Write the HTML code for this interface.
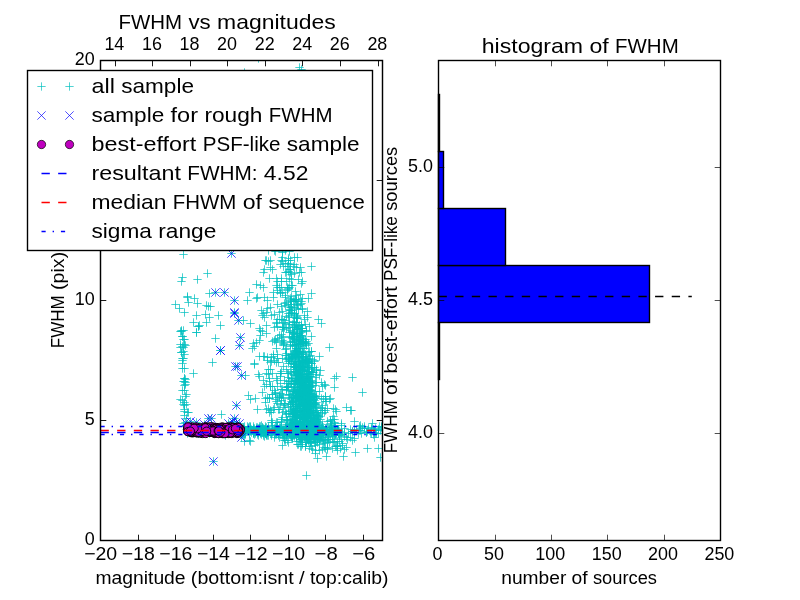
<!DOCTYPE html>
<html><head><meta charset="utf-8"><title>FWHM</title>
<style>
html,body{margin:0;padding:0;background:#fff;}
svg{display:block;will-change:transform;}
text{font-family:"Liberation Sans",sans-serif;fill:#000;}
</style></head><body>
<svg width="800" height="600" viewBox="0 0 800 600">
<rect width="800" height="600" fill="#fff"/>
<clipPath id="cl"><rect x="100.5" y="60.5" width="282" height="480"/></clipPath>
<g clip-path="url(#cl)">
<path d="M179.3 254.5h8.4m-4.2 -4.2v8.4M227.3 253.5h8.4m-4.2 -4.2v8.4M203.3 273.5h8.4m-4.2 -4.2v8.4M178.3 277.5h8.4m-4.2 -4.2v8.4M177.3 281.5h8.4m-4.2 -4.2v8.4M193.3 279.5h8.4m-4.2 -4.2v8.4M205.3 293.5h8.4m-4.2 -4.2v8.4M183.3 296.5h8.4m-4.2 -4.2v8.4M183.3 297.5h8.4m-4.2 -4.2v8.4M190.3 298.5h8.4m-4.2 -4.2v8.4M171.3 304.5h8.4m-4.2 -4.2v8.4M175.3 308.5h8.4m-4.2 -4.2v8.4M180.3 312.5h8.4m-4.2 -4.2v8.4M184.3 302.5h8.4m-4.2 -4.2v8.4M193.3 303.5h8.4m-4.2 -4.2v8.4M202.3 305.5h8.4m-4.2 -4.2v8.4M204.3 306.5h8.4m-4.2 -4.2v8.4M206.3 306.5h8.4m-4.2 -4.2v8.4M192.3 315.5h8.4m-4.2 -4.2v8.4M201.3 314.5h8.4m-4.2 -4.2v8.4M205.3 317.5h8.4m-4.2 -4.2v8.4M214.3 315.5h8.4m-4.2 -4.2v8.4M216.3 325.5h8.4m-4.2 -4.2v8.4M189.3 322.5h8.4m-4.2 -4.2v8.4M194.3 326.5h8.4m-4.2 -4.2v8.4M195.3 325.5h8.4m-4.2 -4.2v8.4M194.3 326.5h8.4m-4.2 -4.2v8.4M202.3 322.5h8.4m-4.2 -4.2v8.4M176.3 331.5h8.4m-4.2 -4.2v8.4M177.3 330.5h8.4m-4.2 -4.2v8.4M192.3 332.5h8.4m-4.2 -4.2v8.4M243.3 300.5h8.4m-4.2 -4.2v8.4M239.3 320.5h8.4m-4.2 -4.2v8.4M192.3 332.5h8.4m-4.2 -4.2v8.4M211.3 338.5h8.4m-4.2 -4.2v8.4M208.3 362.5h8.4m-4.2 -4.2v8.4M189.3 373.5h8.4m-4.2 -4.2v8.4M249.3 343.5h8.4m-4.2 -4.2v8.4M217.3 414.5h8.4m-4.2 -4.2v8.4M244.3 395.5h8.4m-4.2 -4.2v8.4M241.3 375.5h8.4m-4.2 -4.2v8.4M211.3 292.5h8.4m-4.2 -4.2v8.4M220.3 292.5h8.4m-4.2 -4.2v8.4M230.3 300.5h8.4m-4.2 -4.2v8.4M230.3 312.5h8.4m-4.2 -4.2v8.4M234.3 320.5h8.4m-4.2 -4.2v8.4M236.3 337.5h8.4m-4.2 -4.2v8.4M235.3 345.5h8.4m-4.2 -4.2v8.4M216.3 350.5h8.4m-4.2 -4.2v8.4M231.3 366.5h8.4m-4.2 -4.2v8.4M233.3 366.5h8.4m-4.2 -4.2v8.4M237.3 375.5h8.4m-4.2 -4.2v8.4M307.3 266.5h8.4m-4.2 -4.2v8.4M307.3 293.5h8.4m-4.2 -4.2v8.4M304.3 298.5h8.4m-4.2 -4.2v8.4M314.3 319.5h8.4m-4.2 -4.2v8.4M317.3 323.5h8.4m-4.2 -4.2v8.4M305.3 326.5h8.4m-4.2 -4.2v8.4M303.3 311.5h8.4m-4.2 -4.2v8.4M303.3 317.5h8.4m-4.2 -4.2v8.4M296.3 267.5h8.4m-4.2 -4.2v8.4M295.3 272.5h8.4m-4.2 -4.2v8.4M297.3 272.5h8.4m-4.2 -4.2v8.4M297.3 283.5h8.4m-4.2 -4.2v8.4M290.3 257.5h8.4m-4.2 -4.2v8.4M325.3 347.5h8.4m-4.2 -4.2v8.4M315.3 356.5h8.4m-4.2 -4.2v8.4M332.3 376.5h8.4m-4.2 -4.2v8.4M330.3 378.5h8.4m-4.2 -4.2v8.4M348.3 377.5h8.4m-4.2 -4.2v8.4M330.3 387.5h8.4m-4.2 -4.2v8.4M358.3 392.5h8.4m-4.2 -4.2v8.4M326.3 398.5h8.4m-4.2 -4.2v8.4M342.3 407.5h8.4m-4.2 -4.2v8.4M347.3 410.5h8.4m-4.2 -4.2v8.4M329.3 408.5h8.4m-4.2 -4.2v8.4M332.3 411.5h8.4m-4.2 -4.2v8.4M331.3 409.5h8.4m-4.2 -4.2v8.4M307.3 336.5h8.4m-4.2 -4.2v8.4M307.3 351.5h8.4m-4.2 -4.2v8.4M302.3 475.5h8.4m-4.2 -4.2v8.4M278.3 445.5h8.4m-4.2 -4.2v8.4M313.3 458.5h8.4m-4.2 -4.2v8.4M322.3 456.5h8.4m-4.2 -4.2v8.4M339.3 456.5h8.4m-4.2 -4.2v8.4M351.3 452.5h8.4m-4.2 -4.2v8.4M363.3 448.5h8.4m-4.2 -4.2v8.4M374.3 448.5h8.4m-4.2 -4.2v8.4M376.3 457.5h8.4m-4.2 -4.2v8.4M368.3 423.5h8.4m-4.2 -4.2v8.4M350.3 421.5h8.4m-4.2 -4.2v8.4M346.3 410.5h8.4m-4.2 -4.2v8.4M356.3 425.5h8.4m-4.2 -4.2v8.4M360.3 428.5h8.4m-4.2 -4.2v8.4M376.3 430.5h8.4m-4.2 -4.2v8.4M370.3 437.5h8.4m-4.2 -4.2v8.4M350.3 438.5h8.4m-4.2 -4.2v8.4M342.3 447.5h8.4m-4.2 -4.2v8.4M333.3 450.5h8.4m-4.2 -4.2v8.4M332.3 446.5h8.4m-4.2 -4.2v8.4M311.3 453.5h8.4m-4.2 -4.2v8.4M315.3 450.5h8.4m-4.2 -4.2v8.4M308.3 449.5h8.4m-4.2 -4.2v8.4M240.3 441.5h8.4m-4.2 -4.2v8.4M246.3 441.5h8.4m-4.2 -4.2v8.4M295.3 67.5h8.4m-4.2 -4.2v8.4M297.3 69.5h8.4m-4.2 -4.2v8.4M240.3 72.5h8.4m-4.2 -4.2v8.4M254.3 58.5h8.4m-4.2 -4.2v8.4M230.3 313.5h8.4m-4.2 -4.2v8.4M216.3 350.5h8.4m-4.2 -4.2v8.4M232.3 405.5h8.4m-4.2 -4.2v8.4M230.3 418.5h8.4m-4.2 -4.2v8.4M204.3 418.5h8.4m-4.2 -4.2v8.4M207.3 418.5h8.4m-4.2 -4.2v8.4M209.3 461.5h8.4m-4.2 -4.2v8.4M181.3 422.5h8.4m-4.2 -4.2v8.4M192.3 422.5h8.4m-4.2 -4.2v8.4M232.3 422.5h8.4m-4.2 -4.2v8.4M235.3 423.5h8.4m-4.2 -4.2v8.4M237.3 437.5h8.4m-4.2 -4.2v8.4M186.3 421.5h8.4m-4.2 -4.2v8.4M200.3 424.5h8.4m-4.2 -4.2v8.4M224.3 423.5h8.4m-4.2 -4.2v8.4M228.3 421.5h8.4m-4.2 -4.2v8.4M177.3 331.5h8.4m-4.2 -4.2v8.4M179.3 330.5h8.4m-4.2 -4.2v8.4M178.3 336.5h8.4m-4.2 -4.2v8.4M178.3 336.5h8.4m-4.2 -4.2v8.4M180.3 339.5h8.4m-4.2 -4.2v8.4M179.3 339.5h8.4m-4.2 -4.2v8.4M176.3 347.5h8.4m-4.2 -4.2v8.4M176.3 344.5h8.4m-4.2 -4.2v8.4M178.3 346.5h8.4m-4.2 -4.2v8.4M179.3 347.5h8.4m-4.2 -4.2v8.4M181.3 345.5h8.4m-4.2 -4.2v8.4M180.3 344.5h8.4m-4.2 -4.2v8.4M177.3 352.5h8.4m-4.2 -4.2v8.4M177.3 352.5h8.4m-4.2 -4.2v8.4M180.3 354.5h8.4m-4.2 -4.2v8.4M179.3 351.5h8.4m-4.2 -4.2v8.4M178.3 358.5h8.4m-4.2 -4.2v8.4M179.3 358.5h8.4m-4.2 -4.2v8.4M178.3 363.5h8.4m-4.2 -4.2v8.4M178.3 360.5h8.4m-4.2 -4.2v8.4M178.3 368.5h8.4m-4.2 -4.2v8.4M180.3 368.5h8.4m-4.2 -4.2v8.4M180.3 378.5h8.4m-4.2 -4.2v8.4M179.3 381.5h8.4m-4.2 -4.2v8.4M180.3 381.5h8.4m-4.2 -4.2v8.4M180.3 378.5h8.4m-4.2 -4.2v8.4M181.3 382.5h8.4m-4.2 -4.2v8.4M181.3 379.5h8.4m-4.2 -4.2v8.4M180.3 385.5h8.4m-4.2 -4.2v8.4M181.3 384.5h8.4m-4.2 -4.2v8.4M182.3 394.5h8.4m-4.2 -4.2v8.4M181.3 396.5h8.4m-4.2 -4.2v8.4M180.3 390.5h8.4m-4.2 -4.2v8.4M178.3 390.5h8.4m-4.2 -4.2v8.4M178.3 400.5h8.4m-4.2 -4.2v8.4M176.3 399.5h8.4m-4.2 -4.2v8.4M180.3 402.5h8.4m-4.2 -4.2v8.4M179.3 404.5h8.4m-4.2 -4.2v8.4M180.3 405.5h8.4m-4.2 -4.2v8.4M182.3 404.5h8.4m-4.2 -4.2v8.4M183.3 412.5h8.4m-4.2 -4.2v8.4M184.3 412.5h8.4m-4.2 -4.2v8.4M180.3 411.5h8.4m-4.2 -4.2v8.4M180.3 409.5h8.4m-4.2 -4.2v8.4M182.3 418.5h8.4m-4.2 -4.2v8.4M180.3 415.5h8.4m-4.2 -4.2v8.4M179.3 423.5h8.4m-4.2 -4.2v8.4M179.3 426.5h8.4m-4.2 -4.2v8.4M305.3 386.5h8.4m-4.2 -4.2v8.4M278.3 252.5h8.4m-4.2 -4.2v8.4M292.3 322.5h8.4m-4.2 -4.2v8.4M309.3 415.5h8.4m-4.2 -4.2v8.4M295.3 398.5h8.4m-4.2 -4.2v8.4M305.3 414.5h8.4m-4.2 -4.2v8.4M282.3 436.5h8.4m-4.2 -4.2v8.4M304.3 413.5h8.4m-4.2 -4.2v8.4M284.3 304.5h8.4m-4.2 -4.2v8.4M296.3 372.5h8.4m-4.2 -4.2v8.4M311.3 404.5h8.4m-4.2 -4.2v8.4M302.3 359.5h8.4m-4.2 -4.2v8.4M313.3 437.5h8.4m-4.2 -4.2v8.4M309.3 435.5h8.4m-4.2 -4.2v8.4M311.3 427.5h8.4m-4.2 -4.2v8.4M299.3 392.5h8.4m-4.2 -4.2v8.4M310.3 427.5h8.4m-4.2 -4.2v8.4M295.3 335.5h8.4m-4.2 -4.2v8.4M307.3 372.5h8.4m-4.2 -4.2v8.4M295.3 391.5h8.4m-4.2 -4.2v8.4M301.3 418.5h8.4m-4.2 -4.2v8.4M304.3 394.5h8.4m-4.2 -4.2v8.4M295.3 337.5h8.4m-4.2 -4.2v8.4M295.3 376.5h8.4m-4.2 -4.2v8.4M289.3 374.5h8.4m-4.2 -4.2v8.4M296.3 370.5h8.4m-4.2 -4.2v8.4M294.3 344.5h8.4m-4.2 -4.2v8.4M298.3 386.5h8.4m-4.2 -4.2v8.4M304.3 389.5h8.4m-4.2 -4.2v8.4M304.3 421.5h8.4m-4.2 -4.2v8.4M308.3 423.5h8.4m-4.2 -4.2v8.4M307.3 397.5h8.4m-4.2 -4.2v8.4M305.3 391.5h8.4m-4.2 -4.2v8.4M312.3 421.5h8.4m-4.2 -4.2v8.4M292.3 431.5h8.4m-4.2 -4.2v8.4M293.3 412.5h8.4m-4.2 -4.2v8.4M301.3 423.5h8.4m-4.2 -4.2v8.4M313.3 435.5h8.4m-4.2 -4.2v8.4M287.3 296.5h8.4m-4.2 -4.2v8.4M306.3 430.5h8.4m-4.2 -4.2v8.4M291.3 367.5h8.4m-4.2 -4.2v8.4M305.3 393.5h8.4m-4.2 -4.2v8.4M309.3 423.5h8.4m-4.2 -4.2v8.4M300.3 416.5h8.4m-4.2 -4.2v8.4M299.3 339.5h8.4m-4.2 -4.2v8.4M300.3 411.5h8.4m-4.2 -4.2v8.4M284.3 313.5h8.4m-4.2 -4.2v8.4M303.3 378.5h8.4m-4.2 -4.2v8.4M311.3 424.5h8.4m-4.2 -4.2v8.4M301.3 387.5h8.4m-4.2 -4.2v8.4M300.3 405.5h8.4m-4.2 -4.2v8.4M291.3 417.5h8.4m-4.2 -4.2v8.4M302.3 425.5h8.4m-4.2 -4.2v8.4M303.3 420.5h8.4m-4.2 -4.2v8.4M299.3 386.5h8.4m-4.2 -4.2v8.4M300.3 391.5h8.4m-4.2 -4.2v8.4M287.3 306.5h8.4m-4.2 -4.2v8.4M295.3 399.5h8.4m-4.2 -4.2v8.4M306.3 406.5h8.4m-4.2 -4.2v8.4M299.3 426.5h8.4m-4.2 -4.2v8.4M299.3 435.5h8.4m-4.2 -4.2v8.4M293.3 334.5h8.4m-4.2 -4.2v8.4M304.3 359.5h8.4m-4.2 -4.2v8.4M288.3 411.5h8.4m-4.2 -4.2v8.4M296.3 335.5h8.4m-4.2 -4.2v8.4M299.3 357.5h8.4m-4.2 -4.2v8.4M289.3 403.5h8.4m-4.2 -4.2v8.4M291.3 345.5h8.4m-4.2 -4.2v8.4M306.3 422.5h8.4m-4.2 -4.2v8.4M317.3 428.5h8.4m-4.2 -4.2v8.4M283.3 290.5h8.4m-4.2 -4.2v8.4M309.3 399.5h8.4m-4.2 -4.2v8.4M288.3 423.5h8.4m-4.2 -4.2v8.4M306.3 438.5h8.4m-4.2 -4.2v8.4M292.3 366.5h8.4m-4.2 -4.2v8.4M290.3 345.5h8.4m-4.2 -4.2v8.4M302.3 430.5h8.4m-4.2 -4.2v8.4M307.3 432.5h8.4m-4.2 -4.2v8.4M296.3 352.5h8.4m-4.2 -4.2v8.4M290.3 389.5h8.4m-4.2 -4.2v8.4M303.3 416.5h8.4m-4.2 -4.2v8.4M310.3 427.5h8.4m-4.2 -4.2v8.4M288.3 345.5h8.4m-4.2 -4.2v8.4M300.3 411.5h8.4m-4.2 -4.2v8.4M311.3 424.5h8.4m-4.2 -4.2v8.4M310.3 400.5h8.4m-4.2 -4.2v8.4M295.3 344.5h8.4m-4.2 -4.2v8.4M276.3 292.5h8.4m-4.2 -4.2v8.4M295.3 367.5h8.4m-4.2 -4.2v8.4M297.3 424.5h8.4m-4.2 -4.2v8.4M294.3 299.5h8.4m-4.2 -4.2v8.4M284.3 263.5h8.4m-4.2 -4.2v8.4M295.3 379.5h8.4m-4.2 -4.2v8.4M288.3 310.5h8.4m-4.2 -4.2v8.4M296.3 340.5h8.4m-4.2 -4.2v8.4M277.3 281.5h8.4m-4.2 -4.2v8.4M298.3 398.5h8.4m-4.2 -4.2v8.4M294.3 414.5h8.4m-4.2 -4.2v8.4M300.3 387.5h8.4m-4.2 -4.2v8.4M289.3 336.5h8.4m-4.2 -4.2v8.4M290.3 375.5h8.4m-4.2 -4.2v8.4M311.3 404.5h8.4m-4.2 -4.2v8.4M308.3 435.5h8.4m-4.2 -4.2v8.4M305.3 439.5h8.4m-4.2 -4.2v8.4M294.3 361.5h8.4m-4.2 -4.2v8.4M292.3 267.5h8.4m-4.2 -4.2v8.4M307.3 426.5h8.4m-4.2 -4.2v8.4M313.3 434.5h8.4m-4.2 -4.2v8.4M298.3 391.5h8.4m-4.2 -4.2v8.4M292.3 421.5h8.4m-4.2 -4.2v8.4M304.3 429.5h8.4m-4.2 -4.2v8.4M306.3 406.5h8.4m-4.2 -4.2v8.4M291.3 429.5h8.4m-4.2 -4.2v8.4M298.3 281.5h8.4m-4.2 -4.2v8.4M298.3 366.5h8.4m-4.2 -4.2v8.4M292.3 367.5h8.4m-4.2 -4.2v8.4M297.3 332.5h8.4m-4.2 -4.2v8.4M313.3 432.5h8.4m-4.2 -4.2v8.4M285.3 287.5h8.4m-4.2 -4.2v8.4M291.3 412.5h8.4m-4.2 -4.2v8.4M290.3 314.5h8.4m-4.2 -4.2v8.4M298.3 379.5h8.4m-4.2 -4.2v8.4M303.3 386.5h8.4m-4.2 -4.2v8.4M296.3 348.5h8.4m-4.2 -4.2v8.4M288.3 397.5h8.4m-4.2 -4.2v8.4M294.3 399.5h8.4m-4.2 -4.2v8.4M293.3 373.5h8.4m-4.2 -4.2v8.4M310.3 418.5h8.4m-4.2 -4.2v8.4M298.3 343.5h8.4m-4.2 -4.2v8.4M290.3 351.5h8.4m-4.2 -4.2v8.4M297.3 378.5h8.4m-4.2 -4.2v8.4M284.3 381.5h8.4m-4.2 -4.2v8.4M293.3 354.5h8.4m-4.2 -4.2v8.4M292.3 433.5h8.4m-4.2 -4.2v8.4M300.3 426.5h8.4m-4.2 -4.2v8.4M290.3 327.5h8.4m-4.2 -4.2v8.4M302.3 380.5h8.4m-4.2 -4.2v8.4M292.3 359.5h8.4m-4.2 -4.2v8.4M304.3 390.5h8.4m-4.2 -4.2v8.4M299.3 367.5h8.4m-4.2 -4.2v8.4M292.3 395.5h8.4m-4.2 -4.2v8.4M302.3 433.5h8.4m-4.2 -4.2v8.4M300.3 382.5h8.4m-4.2 -4.2v8.4M290.3 410.5h8.4m-4.2 -4.2v8.4M303.3 405.5h8.4m-4.2 -4.2v8.4M300.3 419.5h8.4m-4.2 -4.2v8.4M298.3 309.5h8.4m-4.2 -4.2v8.4M313.3 419.5h8.4m-4.2 -4.2v8.4M294.3 435.5h8.4m-4.2 -4.2v8.4M291.3 406.5h8.4m-4.2 -4.2v8.4M298.3 368.5h8.4m-4.2 -4.2v8.4M305.3 412.5h8.4m-4.2 -4.2v8.4M301.3 416.5h8.4m-4.2 -4.2v8.4M302.3 411.5h8.4m-4.2 -4.2v8.4M301.3 339.5h8.4m-4.2 -4.2v8.4M297.3 437.5h8.4m-4.2 -4.2v8.4M306.3 436.5h8.4m-4.2 -4.2v8.4M305.3 387.5h8.4m-4.2 -4.2v8.4M300.3 405.5h8.4m-4.2 -4.2v8.4M292.3 295.5h8.4m-4.2 -4.2v8.4M310.3 439.5h8.4m-4.2 -4.2v8.4M297.3 425.5h8.4m-4.2 -4.2v8.4M300.3 409.5h8.4m-4.2 -4.2v8.4M309.3 420.5h8.4m-4.2 -4.2v8.4M291.3 350.5h8.4m-4.2 -4.2v8.4M305.3 371.5h8.4m-4.2 -4.2v8.4M295.3 361.5h8.4m-4.2 -4.2v8.4M305.3 405.5h8.4m-4.2 -4.2v8.4M290.3 322.5h8.4m-4.2 -4.2v8.4M306.3 431.5h8.4m-4.2 -4.2v8.4M304.3 391.5h8.4m-4.2 -4.2v8.4M296.3 389.5h8.4m-4.2 -4.2v8.4M290.3 327.5h8.4m-4.2 -4.2v8.4M301.3 413.5h8.4m-4.2 -4.2v8.4M315.3 425.5h8.4m-4.2 -4.2v8.4M296.3 408.5h8.4m-4.2 -4.2v8.4M302.3 361.5h8.4m-4.2 -4.2v8.4M308.3 422.5h8.4m-4.2 -4.2v8.4M293.3 339.5h8.4m-4.2 -4.2v8.4M305.3 426.5h8.4m-4.2 -4.2v8.4M311.3 403.5h8.4m-4.2 -4.2v8.4M292.3 369.5h8.4m-4.2 -4.2v8.4M292.3 397.5h8.4m-4.2 -4.2v8.4M302.3 408.5h8.4m-4.2 -4.2v8.4M295.3 364.5h8.4m-4.2 -4.2v8.4M315.3 427.5h8.4m-4.2 -4.2v8.4M307.3 386.5h8.4m-4.2 -4.2v8.4M285.3 431.5h8.4m-4.2 -4.2v8.4M306.3 426.5h8.4m-4.2 -4.2v8.4M290.3 325.5h8.4m-4.2 -4.2v8.4M307.3 410.5h8.4m-4.2 -4.2v8.4M292.3 372.5h8.4m-4.2 -4.2v8.4M300.3 419.5h8.4m-4.2 -4.2v8.4M304.3 400.5h8.4m-4.2 -4.2v8.4M300.3 391.5h8.4m-4.2 -4.2v8.4M309.3 431.5h8.4m-4.2 -4.2v8.4M287.3 307.5h8.4m-4.2 -4.2v8.4M294.3 401.5h8.4m-4.2 -4.2v8.4M298.3 374.5h8.4m-4.2 -4.2v8.4M291.3 291.5h8.4m-4.2 -4.2v8.4M304.3 419.5h8.4m-4.2 -4.2v8.4M301.3 401.5h8.4m-4.2 -4.2v8.4M290.3 431.5h8.4m-4.2 -4.2v8.4M300.3 405.5h8.4m-4.2 -4.2v8.4M298.3 376.5h8.4m-4.2 -4.2v8.4M314.3 438.5h8.4m-4.2 -4.2v8.4M302.3 330.5h8.4m-4.2 -4.2v8.4M293.3 304.5h8.4m-4.2 -4.2v8.4M292.3 417.5h8.4m-4.2 -4.2v8.4M304.3 380.5h8.4m-4.2 -4.2v8.4M296.3 379.5h8.4m-4.2 -4.2v8.4M307.3 430.5h8.4m-4.2 -4.2v8.4M294.3 374.5h8.4m-4.2 -4.2v8.4M313.3 431.5h8.4m-4.2 -4.2v8.4M305.3 409.5h8.4m-4.2 -4.2v8.4M296.3 374.5h8.4m-4.2 -4.2v8.4M298.3 308.5h8.4m-4.2 -4.2v8.4M286.3 361.5h8.4m-4.2 -4.2v8.4M296.3 437.5h8.4m-4.2 -4.2v8.4M291.3 384.5h8.4m-4.2 -4.2v8.4M296.3 343.5h8.4m-4.2 -4.2v8.4M298.3 370.5h8.4m-4.2 -4.2v8.4M288.3 432.5h8.4m-4.2 -4.2v8.4M294.3 344.5h8.4m-4.2 -4.2v8.4M306.3 421.5h8.4m-4.2 -4.2v8.4M298.3 336.5h8.4m-4.2 -4.2v8.4M288.3 436.5h8.4m-4.2 -4.2v8.4M291.3 398.5h8.4m-4.2 -4.2v8.4M298.3 298.5h8.4m-4.2 -4.2v8.4M301.3 434.5h8.4m-4.2 -4.2v8.4M296.3 378.5h8.4m-4.2 -4.2v8.4M309.3 417.5h8.4m-4.2 -4.2v8.4M305.3 398.5h8.4m-4.2 -4.2v8.4M285.3 322.5h8.4m-4.2 -4.2v8.4M293.3 327.5h8.4m-4.2 -4.2v8.4M292.3 340.5h8.4m-4.2 -4.2v8.4M297.3 343.5h8.4m-4.2 -4.2v8.4M287.3 304.5h8.4m-4.2 -4.2v8.4M292.3 300.5h8.4m-4.2 -4.2v8.4M282.3 435.5h8.4m-4.2 -4.2v8.4M292.3 322.5h8.4m-4.2 -4.2v8.4M312.3 396.5h8.4m-4.2 -4.2v8.4M297.3 331.5h8.4m-4.2 -4.2v8.4M306.3 355.5h8.4m-4.2 -4.2v8.4M306.3 420.5h8.4m-4.2 -4.2v8.4M302.3 435.5h8.4m-4.2 -4.2v8.4M295.3 392.5h8.4m-4.2 -4.2v8.4M284.3 260.5h8.4m-4.2 -4.2v8.4M315.3 439.5h8.4m-4.2 -4.2v8.4M290.3 301.5h8.4m-4.2 -4.2v8.4M302.3 382.5h8.4m-4.2 -4.2v8.4M305.3 399.5h8.4m-4.2 -4.2v8.4M300.3 431.5h8.4m-4.2 -4.2v8.4M312.3 425.5h8.4m-4.2 -4.2v8.4M286.3 406.5h8.4m-4.2 -4.2v8.4M305.3 384.5h8.4m-4.2 -4.2v8.4M305.3 426.5h8.4m-4.2 -4.2v8.4M305.3 429.5h8.4m-4.2 -4.2v8.4M301.3 429.5h8.4m-4.2 -4.2v8.4M288.3 416.5h8.4m-4.2 -4.2v8.4M297.3 324.5h8.4m-4.2 -4.2v8.4M298.3 370.5h8.4m-4.2 -4.2v8.4M304.3 394.5h8.4m-4.2 -4.2v8.4M301.3 396.5h8.4m-4.2 -4.2v8.4M302.3 426.5h8.4m-4.2 -4.2v8.4M310.3 360.5h8.4m-4.2 -4.2v8.4M299.3 411.5h8.4m-4.2 -4.2v8.4M297.3 381.5h8.4m-4.2 -4.2v8.4M300.3 421.5h8.4m-4.2 -4.2v8.4M295.3 351.5h8.4m-4.2 -4.2v8.4M299.3 393.5h8.4m-4.2 -4.2v8.4M291.3 326.5h8.4m-4.2 -4.2v8.4M291.3 355.5h8.4m-4.2 -4.2v8.4M306.3 434.5h8.4m-4.2 -4.2v8.4M295.3 373.5h8.4m-4.2 -4.2v8.4M296.3 431.5h8.4m-4.2 -4.2v8.4M299.3 398.5h8.4m-4.2 -4.2v8.4M296.3 294.5h8.4m-4.2 -4.2v8.4M307.3 423.5h8.4m-4.2 -4.2v8.4M296.3 304.5h8.4m-4.2 -4.2v8.4M308.3 426.5h8.4m-4.2 -4.2v8.4M290.3 264.5h8.4m-4.2 -4.2v8.4M306.3 412.5h8.4m-4.2 -4.2v8.4M286.3 344.5h8.4m-4.2 -4.2v8.4M304.3 376.5h8.4m-4.2 -4.2v8.4M305.3 436.5h8.4m-4.2 -4.2v8.4M308.3 394.5h8.4m-4.2 -4.2v8.4M297.3 411.5h8.4m-4.2 -4.2v8.4M299.3 418.5h8.4m-4.2 -4.2v8.4M298.3 328.5h8.4m-4.2 -4.2v8.4M297.3 427.5h8.4m-4.2 -4.2v8.4M292.3 433.5h8.4m-4.2 -4.2v8.4M289.3 342.5h8.4m-4.2 -4.2v8.4M304.3 400.5h8.4m-4.2 -4.2v8.4M307.3 368.5h8.4m-4.2 -4.2v8.4M305.3 418.5h8.4m-4.2 -4.2v8.4M288.3 285.5h8.4m-4.2 -4.2v8.4M297.3 396.5h8.4m-4.2 -4.2v8.4M291.3 423.5h8.4m-4.2 -4.2v8.4M296.3 418.5h8.4m-4.2 -4.2v8.4M298.3 328.5h8.4m-4.2 -4.2v8.4M303.3 426.5h8.4m-4.2 -4.2v8.4M301.3 360.5h8.4m-4.2 -4.2v8.4M307.3 424.5h8.4m-4.2 -4.2v8.4M292.3 395.5h8.4m-4.2 -4.2v8.4M301.3 343.5h8.4m-4.2 -4.2v8.4M309.3 418.5h8.4m-4.2 -4.2v8.4M291.3 424.5h8.4m-4.2 -4.2v8.4M288.3 414.5h8.4m-4.2 -4.2v8.4M303.3 437.5h8.4m-4.2 -4.2v8.4M295.3 363.5h8.4m-4.2 -4.2v8.4M296.3 360.5h8.4m-4.2 -4.2v8.4M294.3 339.5h8.4m-4.2 -4.2v8.4M303.3 399.5h8.4m-4.2 -4.2v8.4M294.3 384.5h8.4m-4.2 -4.2v8.4M287.3 378.5h8.4m-4.2 -4.2v8.4M311.3 391.5h8.4m-4.2 -4.2v8.4M294.3 366.5h8.4m-4.2 -4.2v8.4M293.3 257.5h8.4m-4.2 -4.2v8.4M300.3 392.5h8.4m-4.2 -4.2v8.4M289.3 366.5h8.4m-4.2 -4.2v8.4M301.3 390.5h8.4m-4.2 -4.2v8.4M298.3 434.5h8.4m-4.2 -4.2v8.4M300.3 348.5h8.4m-4.2 -4.2v8.4M300.3 409.5h8.4m-4.2 -4.2v8.4M303.3 409.5h8.4m-4.2 -4.2v8.4M304.3 367.5h8.4m-4.2 -4.2v8.4M292.3 392.5h8.4m-4.2 -4.2v8.4M310.3 437.5h8.4m-4.2 -4.2v8.4M297.3 376.5h8.4m-4.2 -4.2v8.4M301.3 416.5h8.4m-4.2 -4.2v8.4M300.3 427.5h8.4m-4.2 -4.2v8.4M302.3 379.5h8.4m-4.2 -4.2v8.4M304.3 439.5h8.4m-4.2 -4.2v8.4M311.3 408.5h8.4m-4.2 -4.2v8.4M301.3 395.5h8.4m-4.2 -4.2v8.4M300.3 416.5h8.4m-4.2 -4.2v8.4M306.3 387.5h8.4m-4.2 -4.2v8.4M309.3 416.5h8.4m-4.2 -4.2v8.4M303.3 366.5h8.4m-4.2 -4.2v8.4M312.3 434.5h8.4m-4.2 -4.2v8.4M297.3 399.5h8.4m-4.2 -4.2v8.4M304.3 361.5h8.4m-4.2 -4.2v8.4M299.3 388.5h8.4m-4.2 -4.2v8.4M307.3 431.5h8.4m-4.2 -4.2v8.4M299.3 424.5h8.4m-4.2 -4.2v8.4M289.3 393.5h8.4m-4.2 -4.2v8.4M304.3 378.5h8.4m-4.2 -4.2v8.4M302.3 381.5h8.4m-4.2 -4.2v8.4M303.3 438.5h8.4m-4.2 -4.2v8.4M293.3 329.5h8.4m-4.2 -4.2v8.4M316.3 431.5h8.4m-4.2 -4.2v8.4M314.3 428.5h8.4m-4.2 -4.2v8.4M291.3 357.5h8.4m-4.2 -4.2v8.4M303.3 377.5h8.4m-4.2 -4.2v8.4M304.3 402.5h8.4m-4.2 -4.2v8.4M307.3 424.5h8.4m-4.2 -4.2v8.4M306.3 436.5h8.4m-4.2 -4.2v8.4M308.3 439.5h8.4m-4.2 -4.2v8.4M301.3 367.5h8.4m-4.2 -4.2v8.4M305.3 351.5h8.4m-4.2 -4.2v8.4M297.3 394.5h8.4m-4.2 -4.2v8.4M304.3 401.5h8.4m-4.2 -4.2v8.4M309.3 411.5h8.4m-4.2 -4.2v8.4M296.3 328.5h8.4m-4.2 -4.2v8.4M298.3 410.5h8.4m-4.2 -4.2v8.4M306.3 433.5h8.4m-4.2 -4.2v8.4M306.3 433.5h8.4m-4.2 -4.2v8.4M302.3 435.5h8.4m-4.2 -4.2v8.4M299.3 433.5h8.4m-4.2 -4.2v8.4M307.3 436.5h8.4m-4.2 -4.2v8.4M297.3 301.5h8.4m-4.2 -4.2v8.4M302.3 433.5h8.4m-4.2 -4.2v8.4M297.3 366.5h8.4m-4.2 -4.2v8.4M304.3 373.5h8.4m-4.2 -4.2v8.4M298.3 391.5h8.4m-4.2 -4.2v8.4M301.3 436.5h8.4m-4.2 -4.2v8.4M302.3 406.5h8.4m-4.2 -4.2v8.4M296.3 378.5h8.4m-4.2 -4.2v8.4M296.3 381.5h8.4m-4.2 -4.2v8.4M316.3 432.5h8.4m-4.2 -4.2v8.4M306.3 425.5h8.4m-4.2 -4.2v8.4M288.3 337.5h8.4m-4.2 -4.2v8.4M291.3 362.5h8.4m-4.2 -4.2v8.4M299.3 380.5h8.4m-4.2 -4.2v8.4M297.3 356.5h8.4m-4.2 -4.2v8.4M306.3 402.5h8.4m-4.2 -4.2v8.4M288.3 357.5h8.4m-4.2 -4.2v8.4M310.3 403.5h8.4m-4.2 -4.2v8.4M298.3 434.5h8.4m-4.2 -4.2v8.4M304.3 427.5h8.4m-4.2 -4.2v8.4M297.3 325.5h8.4m-4.2 -4.2v8.4M289.3 354.5h8.4m-4.2 -4.2v8.4M303.3 385.5h8.4m-4.2 -4.2v8.4M318.3 410.5h8.4m-4.2 -4.2v8.4M298.3 382.5h8.4m-4.2 -4.2v8.4M295.3 362.5h8.4m-4.2 -4.2v8.4M295.3 377.5h8.4m-4.2 -4.2v8.4M299.3 353.5h8.4m-4.2 -4.2v8.4M297.3 428.5h8.4m-4.2 -4.2v8.4M296.3 414.5h8.4m-4.2 -4.2v8.4M300.3 385.5h8.4m-4.2 -4.2v8.4M314.3 415.5h8.4m-4.2 -4.2v8.4M302.3 397.5h8.4m-4.2 -4.2v8.4M297.3 398.5h8.4m-4.2 -4.2v8.4M291.3 380.5h8.4m-4.2 -4.2v8.4M303.3 394.5h8.4m-4.2 -4.2v8.4M310.3 438.5h8.4m-4.2 -4.2v8.4M296.3 422.5h8.4m-4.2 -4.2v8.4M296.3 426.5h8.4m-4.2 -4.2v8.4M295.3 333.5h8.4m-4.2 -4.2v8.4M307.3 396.5h8.4m-4.2 -4.2v8.4M299.3 380.5h8.4m-4.2 -4.2v8.4M289.3 321.5h8.4m-4.2 -4.2v8.4M290.3 383.5h8.4m-4.2 -4.2v8.4M300.3 315.5h8.4m-4.2 -4.2v8.4M301.3 359.5h8.4m-4.2 -4.2v8.4M296.3 423.5h8.4m-4.2 -4.2v8.4M310.3 413.5h8.4m-4.2 -4.2v8.4M308.3 414.5h8.4m-4.2 -4.2v8.4M290.3 317.5h8.4m-4.2 -4.2v8.4M294.3 344.5h8.4m-4.2 -4.2v8.4M294.3 279.5h8.4m-4.2 -4.2v8.4M301.3 324.5h8.4m-4.2 -4.2v8.4M295.3 325.5h8.4m-4.2 -4.2v8.4M309.3 436.5h8.4m-4.2 -4.2v8.4M316.3 431.5h8.4m-4.2 -4.2v8.4M290.3 353.5h8.4m-4.2 -4.2v8.4M298.3 363.5h8.4m-4.2 -4.2v8.4M304.3 436.5h8.4m-4.2 -4.2v8.4M309.3 402.5h8.4m-4.2 -4.2v8.4M292.3 380.5h8.4m-4.2 -4.2v8.4M302.3 392.5h8.4m-4.2 -4.2v8.4M290.3 366.5h8.4m-4.2 -4.2v8.4M305.3 404.5h8.4m-4.2 -4.2v8.4M300.3 417.5h8.4m-4.2 -4.2v8.4M298.3 397.5h8.4m-4.2 -4.2v8.4M310.3 425.5h8.4m-4.2 -4.2v8.4M292.3 329.5h8.4m-4.2 -4.2v8.4M301.3 406.5h8.4m-4.2 -4.2v8.4M302.3 439.5h8.4m-4.2 -4.2v8.4M294.3 340.5h8.4m-4.2 -4.2v8.4M297.3 395.5h8.4m-4.2 -4.2v8.4M295.3 408.5h8.4m-4.2 -4.2v8.4M295.3 376.5h8.4m-4.2 -4.2v8.4M287.3 437.5h8.4m-4.2 -4.2v8.4M298.3 394.5h8.4m-4.2 -4.2v8.4M304.3 393.5h8.4m-4.2 -4.2v8.4M292.3 432.5h8.4m-4.2 -4.2v8.4M290.3 273.5h8.4m-4.2 -4.2v8.4M299.3 429.5h8.4m-4.2 -4.2v8.4M290.3 334.5h8.4m-4.2 -4.2v8.4M293.3 381.5h8.4m-4.2 -4.2v8.4M285.3 394.5h8.4m-4.2 -4.2v8.4M306.3 393.5h8.4m-4.2 -4.2v8.4M281.3 295.5h8.4m-4.2 -4.2v8.4M293.3 373.5h8.4m-4.2 -4.2v8.4M303.3 378.5h8.4m-4.2 -4.2v8.4M307.3 436.5h8.4m-4.2 -4.2v8.4M300.3 433.5h8.4m-4.2 -4.2v8.4M299.3 404.5h8.4m-4.2 -4.2v8.4M302.3 434.5h8.4m-4.2 -4.2v8.4M307.3 429.5h8.4m-4.2 -4.2v8.4M285.3 381.5h8.4m-4.2 -4.2v8.4M302.3 331.5h8.4m-4.2 -4.2v8.4M299.3 406.5h8.4m-4.2 -4.2v8.4M305.3 374.5h8.4m-4.2 -4.2v8.4M289.3 266.5h8.4m-4.2 -4.2v8.4M316.3 438.5h8.4m-4.2 -4.2v8.4M303.3 437.5h8.4m-4.2 -4.2v8.4M295.3 399.5h8.4m-4.2 -4.2v8.4M302.3 407.5h8.4m-4.2 -4.2v8.4M309.3 412.5h8.4m-4.2 -4.2v8.4M301.3 434.5h8.4m-4.2 -4.2v8.4M299.3 392.5h8.4m-4.2 -4.2v8.4M295.3 404.5h8.4m-4.2 -4.2v8.4M305.3 358.5h8.4m-4.2 -4.2v8.4M291.3 361.5h8.4m-4.2 -4.2v8.4M291.3 397.5h8.4m-4.2 -4.2v8.4M287.3 358.5h8.4m-4.2 -4.2v8.4M283.3 287.5h8.4m-4.2 -4.2v8.4M296.3 380.5h8.4m-4.2 -4.2v8.4M289.3 419.5h8.4m-4.2 -4.2v8.4M303.3 367.5h8.4m-4.2 -4.2v8.4M301.3 429.5h8.4m-4.2 -4.2v8.4M313.3 415.5h8.4m-4.2 -4.2v8.4M287.3 410.5h8.4m-4.2 -4.2v8.4M303.3 431.5h8.4m-4.2 -4.2v8.4M292.3 315.5h8.4m-4.2 -4.2v8.4M299.3 348.5h8.4m-4.2 -4.2v8.4M314.3 432.5h8.4m-4.2 -4.2v8.4M294.3 432.5h8.4m-4.2 -4.2v8.4M293.3 317.5h8.4m-4.2 -4.2v8.4M304.3 421.5h8.4m-4.2 -4.2v8.4M282.3 272.5h8.4m-4.2 -4.2v8.4M292.3 336.5h8.4m-4.2 -4.2v8.4M293.3 328.5h8.4m-4.2 -4.2v8.4M296.3 369.5h8.4m-4.2 -4.2v8.4M306.3 382.5h8.4m-4.2 -4.2v8.4M297.3 432.5h8.4m-4.2 -4.2v8.4M300.3 388.5h8.4m-4.2 -4.2v8.4M293.3 333.5h8.4m-4.2 -4.2v8.4M289.3 366.5h8.4m-4.2 -4.2v8.4M287.3 285.5h8.4m-4.2 -4.2v8.4M295.3 387.5h8.4m-4.2 -4.2v8.4M312.3 396.5h8.4m-4.2 -4.2v8.4M300.3 362.5h8.4m-4.2 -4.2v8.4M305.3 381.5h8.4m-4.2 -4.2v8.4M294.3 326.5h8.4m-4.2 -4.2v8.4M303.3 411.5h8.4m-4.2 -4.2v8.4M296.3 383.5h8.4m-4.2 -4.2v8.4M296.3 343.5h8.4m-4.2 -4.2v8.4M310.3 395.5h8.4m-4.2 -4.2v8.4M297.3 354.5h8.4m-4.2 -4.2v8.4M297.3 369.5h8.4m-4.2 -4.2v8.4M293.3 333.5h8.4m-4.2 -4.2v8.4M295.3 422.5h8.4m-4.2 -4.2v8.4M303.3 367.5h8.4m-4.2 -4.2v8.4M300.3 436.5h8.4m-4.2 -4.2v8.4M300.3 384.5h8.4m-4.2 -4.2v8.4M301.3 342.5h8.4m-4.2 -4.2v8.4M292.3 415.5h8.4m-4.2 -4.2v8.4M299.3 418.5h8.4m-4.2 -4.2v8.4M297.3 430.5h8.4m-4.2 -4.2v8.4M297.3 335.5h8.4m-4.2 -4.2v8.4M311.3 422.5h8.4m-4.2 -4.2v8.4M306.3 428.5h8.4m-4.2 -4.2v8.4M298.3 371.5h8.4m-4.2 -4.2v8.4M305.3 390.5h8.4m-4.2 -4.2v8.4M294.3 407.5h8.4m-4.2 -4.2v8.4M298.3 361.5h8.4m-4.2 -4.2v8.4M297.3 429.5h8.4m-4.2 -4.2v8.4M300.3 414.5h8.4m-4.2 -4.2v8.4M306.3 428.5h8.4m-4.2 -4.2v8.4M307.3 390.5h8.4m-4.2 -4.2v8.4M308.3 397.5h8.4m-4.2 -4.2v8.4M295.3 351.5h8.4m-4.2 -4.2v8.4M293.3 372.5h8.4m-4.2 -4.2v8.4M298.3 417.5h8.4m-4.2 -4.2v8.4M309.3 436.5h8.4m-4.2 -4.2v8.4M299.3 341.5h8.4m-4.2 -4.2v8.4M297.3 303.5h8.4m-4.2 -4.2v8.4M287.3 312.5h8.4m-4.2 -4.2v8.4M302.3 388.5h8.4m-4.2 -4.2v8.4M308.3 423.5h8.4m-4.2 -4.2v8.4M299.3 357.5h8.4m-4.2 -4.2v8.4M299.3 393.5h8.4m-4.2 -4.2v8.4M302.3 397.5h8.4m-4.2 -4.2v8.4M305.3 426.5h8.4m-4.2 -4.2v8.4M292.3 344.5h8.4m-4.2 -4.2v8.4M286.3 272.5h8.4m-4.2 -4.2v8.4M294.3 396.5h8.4m-4.2 -4.2v8.4M287.3 378.5h8.4m-4.2 -4.2v8.4M303.3 369.5h8.4m-4.2 -4.2v8.4M296.3 421.5h8.4m-4.2 -4.2v8.4M300.3 413.5h8.4m-4.2 -4.2v8.4M300.3 319.5h8.4m-4.2 -4.2v8.4M289.3 400.5h8.4m-4.2 -4.2v8.4M309.3 423.5h8.4m-4.2 -4.2v8.4M300.3 432.5h8.4m-4.2 -4.2v8.4M281.3 250.5h8.4m-4.2 -4.2v8.4M304.3 424.5h8.4m-4.2 -4.2v8.4M286.3 298.5h8.4m-4.2 -4.2v8.4M318.3 413.5h8.4m-4.2 -4.2v8.4M291.3 405.5h8.4m-4.2 -4.2v8.4M304.3 436.5h8.4m-4.2 -4.2v8.4M292.3 408.5h8.4m-4.2 -4.2v8.4M287.3 313.5h8.4m-4.2 -4.2v8.4M293.3 412.5h8.4m-4.2 -4.2v8.4M307.3 363.5h8.4m-4.2 -4.2v8.4M309.3 426.5h8.4m-4.2 -4.2v8.4M312.3 374.5h8.4m-4.2 -4.2v8.4M313.3 412.5h8.4m-4.2 -4.2v8.4M299.3 342.5h8.4m-4.2 -4.2v8.4M316.3 410.5h8.4m-4.2 -4.2v8.4M291.3 414.5h8.4m-4.2 -4.2v8.4M298.3 418.5h8.4m-4.2 -4.2v8.4M291.3 430.5h8.4m-4.2 -4.2v8.4M300.3 385.5h8.4m-4.2 -4.2v8.4M298.3 338.5h8.4m-4.2 -4.2v8.4M299.3 364.5h8.4m-4.2 -4.2v8.4M302.3 382.5h8.4m-4.2 -4.2v8.4M293.3 305.5h8.4m-4.2 -4.2v8.4M304.3 415.5h8.4m-4.2 -4.2v8.4M285.3 310.5h8.4m-4.2 -4.2v8.4M290.3 307.5h8.4m-4.2 -4.2v8.4M298.3 434.5h8.4m-4.2 -4.2v8.4M300.3 424.5h8.4m-4.2 -4.2v8.4M307.3 363.5h8.4m-4.2 -4.2v8.4M298.3 376.5h8.4m-4.2 -4.2v8.4M294.3 426.5h8.4m-4.2 -4.2v8.4M302.3 407.5h8.4m-4.2 -4.2v8.4M296.3 365.5h8.4m-4.2 -4.2v8.4M307.3 390.5h8.4m-4.2 -4.2v8.4M305.3 428.5h8.4m-4.2 -4.2v8.4M278.3 251.5h8.4m-4.2 -4.2v8.4M306.3 439.5h8.4m-4.2 -4.2v8.4M300.3 402.5h8.4m-4.2 -4.2v8.4M292.3 348.5h8.4m-4.2 -4.2v8.4M288.3 423.5h8.4m-4.2 -4.2v8.4M292.3 316.5h8.4m-4.2 -4.2v8.4M295.3 385.5h8.4m-4.2 -4.2v8.4M305.3 403.5h8.4m-4.2 -4.2v8.4M305.3 362.5h8.4m-4.2 -4.2v8.4M328.3 430.5h8.4m-4.2 -4.2v8.4M302.3 414.5h8.4m-4.2 -4.2v8.4M294.3 343.5h8.4m-4.2 -4.2v8.4M290.3 341.5h8.4m-4.2 -4.2v8.4M294.3 309.5h8.4m-4.2 -4.2v8.4M289.3 402.5h8.4m-4.2 -4.2v8.4M292.3 350.5h8.4m-4.2 -4.2v8.4M302.3 400.5h8.4m-4.2 -4.2v8.4M306.3 425.5h8.4m-4.2 -4.2v8.4M298.3 430.5h8.4m-4.2 -4.2v8.4M298.3 330.5h8.4m-4.2 -4.2v8.4M296.3 375.5h8.4m-4.2 -4.2v8.4M305.3 386.5h8.4m-4.2 -4.2v8.4M302.3 382.5h8.4m-4.2 -4.2v8.4M304.3 386.5h8.4m-4.2 -4.2v8.4M292.3 391.5h8.4m-4.2 -4.2v8.4M302.3 420.5h8.4m-4.2 -4.2v8.4M307.3 371.5h8.4m-4.2 -4.2v8.4M306.3 376.5h8.4m-4.2 -4.2v8.4M296.3 383.5h8.4m-4.2 -4.2v8.4M295.3 341.5h8.4m-4.2 -4.2v8.4M304.3 408.5h8.4m-4.2 -4.2v8.4M289.3 384.5h8.4m-4.2 -4.2v8.4M300.3 433.5h8.4m-4.2 -4.2v8.4M307.3 425.5h8.4m-4.2 -4.2v8.4M298.3 358.5h8.4m-4.2 -4.2v8.4M294.3 361.5h8.4m-4.2 -4.2v8.4M295.3 422.5h8.4m-4.2 -4.2v8.4M299.3 401.5h8.4m-4.2 -4.2v8.4M283.3 266.5h8.4m-4.2 -4.2v8.4M293.3 408.5h8.4m-4.2 -4.2v8.4M287.3 383.5h8.4m-4.2 -4.2v8.4M298.3 422.5h8.4m-4.2 -4.2v8.4M288.3 419.5h8.4m-4.2 -4.2v8.4M300.3 433.5h8.4m-4.2 -4.2v8.4M291.3 414.5h8.4m-4.2 -4.2v8.4M315.3 433.5h8.4m-4.2 -4.2v8.4M296.3 368.5h8.4m-4.2 -4.2v8.4M302.3 376.5h8.4m-4.2 -4.2v8.4M292.3 308.5h8.4m-4.2 -4.2v8.4M307.3 429.5h8.4m-4.2 -4.2v8.4M298.3 341.5h8.4m-4.2 -4.2v8.4M301.3 400.5h8.4m-4.2 -4.2v8.4M310.3 396.5h8.4m-4.2 -4.2v8.4M309.3 424.5h8.4m-4.2 -4.2v8.4M296.3 382.5h8.4m-4.2 -4.2v8.4M290.3 338.5h8.4m-4.2 -4.2v8.4M305.3 382.5h8.4m-4.2 -4.2v8.4M292.3 301.5h8.4m-4.2 -4.2v8.4M295.3 370.5h8.4m-4.2 -4.2v8.4M289.3 408.5h8.4m-4.2 -4.2v8.4M286.3 307.5h8.4m-4.2 -4.2v8.4M296.3 439.5h8.4m-4.2 -4.2v8.4M306.3 399.5h8.4m-4.2 -4.2v8.4M298.3 370.5h8.4m-4.2 -4.2v8.4M303.3 426.5h8.4m-4.2 -4.2v8.4M296.3 337.5h8.4m-4.2 -4.2v8.4M301.3 373.5h8.4m-4.2 -4.2v8.4M305.3 435.5h8.4m-4.2 -4.2v8.4M298.3 360.5h8.4m-4.2 -4.2v8.4M300.3 417.5h8.4m-4.2 -4.2v8.4M293.3 318.5h8.4m-4.2 -4.2v8.4M306.3 399.5h8.4m-4.2 -4.2v8.4M304.3 411.5h8.4m-4.2 -4.2v8.4M301.3 354.5h8.4m-4.2 -4.2v8.4M302.3 374.5h8.4m-4.2 -4.2v8.4M303.3 400.5h8.4m-4.2 -4.2v8.4M298.3 404.5h8.4m-4.2 -4.2v8.4M302.3 341.5h8.4m-4.2 -4.2v8.4M301.3 385.5h8.4m-4.2 -4.2v8.4M303.3 439.5h8.4m-4.2 -4.2v8.4M294.3 374.5h8.4m-4.2 -4.2v8.4M292.3 422.5h8.4m-4.2 -4.2v8.4M294.3 353.5h8.4m-4.2 -4.2v8.4M294.3 391.5h8.4m-4.2 -4.2v8.4M292.3 397.5h8.4m-4.2 -4.2v8.4M303.3 405.5h8.4m-4.2 -4.2v8.4M315.3 416.5h8.4m-4.2 -4.2v8.4M293.3 423.5h8.4m-4.2 -4.2v8.4M311.3 415.5h8.4m-4.2 -4.2v8.4M298.3 424.5h8.4m-4.2 -4.2v8.4M288.3 430.5h8.4m-4.2 -4.2v8.4M299.3 374.5h8.4m-4.2 -4.2v8.4M305.3 426.5h8.4m-4.2 -4.2v8.4M311.3 397.5h8.4m-4.2 -4.2v8.4M290.3 364.5h8.4m-4.2 -4.2v8.4M294.3 346.5h8.4m-4.2 -4.2v8.4M312.3 420.5h8.4m-4.2 -4.2v8.4M289.3 409.5h8.4m-4.2 -4.2v8.4M290.3 313.5h8.4m-4.2 -4.2v8.4M303.3 404.5h8.4m-4.2 -4.2v8.4M291.3 299.5h8.4m-4.2 -4.2v8.4M295.3 383.5h8.4m-4.2 -4.2v8.4M300.3 402.5h8.4m-4.2 -4.2v8.4M306.3 410.5h8.4m-4.2 -4.2v8.4M298.3 342.5h8.4m-4.2 -4.2v8.4M291.3 299.5h8.4m-4.2 -4.2v8.4M306.3 403.5h8.4m-4.2 -4.2v8.4M299.3 425.5h8.4m-4.2 -4.2v8.4M290.3 423.5h8.4m-4.2 -4.2v8.4M304.3 379.5h8.4m-4.2 -4.2v8.4M302.3 403.5h8.4m-4.2 -4.2v8.4M299.3 416.5h8.4m-4.2 -4.2v8.4M308.3 429.5h8.4m-4.2 -4.2v8.4M286.3 394.5h8.4m-4.2 -4.2v8.4M305.3 430.5h8.4m-4.2 -4.2v8.4M294.3 373.5h8.4m-4.2 -4.2v8.4M294.3 356.5h8.4m-4.2 -4.2v8.4M295.3 403.5h8.4m-4.2 -4.2v8.4M292.3 380.5h8.4m-4.2 -4.2v8.4M293.3 395.5h8.4m-4.2 -4.2v8.4M290.3 391.5h8.4m-4.2 -4.2v8.4M299.3 414.5h8.4m-4.2 -4.2v8.4M289.3 390.5h8.4m-4.2 -4.2v8.4M291.3 381.5h8.4m-4.2 -4.2v8.4M318.3 424.5h8.4m-4.2 -4.2v8.4M296.3 370.5h8.4m-4.2 -4.2v8.4M306.3 406.5h8.4m-4.2 -4.2v8.4M298.3 405.5h8.4m-4.2 -4.2v8.4M299.3 386.5h8.4m-4.2 -4.2v8.4M312.3 412.5h8.4m-4.2 -4.2v8.4M312.3 412.5h8.4m-4.2 -4.2v8.4M298.3 396.5h8.4m-4.2 -4.2v8.4M304.3 384.5h8.4m-4.2 -4.2v8.4M301.3 362.5h8.4m-4.2 -4.2v8.4M303.3 418.5h8.4m-4.2 -4.2v8.4M303.3 424.5h8.4m-4.2 -4.2v8.4M301.3 380.5h8.4m-4.2 -4.2v8.4M298.3 384.5h8.4m-4.2 -4.2v8.4M307.3 406.5h8.4m-4.2 -4.2v8.4M298.3 414.5h8.4m-4.2 -4.2v8.4M304.3 417.5h8.4m-4.2 -4.2v8.4M293.3 413.5h8.4m-4.2 -4.2v8.4M293.3 408.5h8.4m-4.2 -4.2v8.4M305.3 405.5h8.4m-4.2 -4.2v8.4M302.3 344.5h8.4m-4.2 -4.2v8.4M273.3 397.5h8.4m-4.2 -4.2v8.4M308.3 410.5h8.4m-4.2 -4.2v8.4M302.3 382.5h8.4m-4.2 -4.2v8.4M284.3 377.5h8.4m-4.2 -4.2v8.4M291.3 391.5h8.4m-4.2 -4.2v8.4M306.3 400.5h8.4m-4.2 -4.2v8.4M304.3 343.5h8.4m-4.2 -4.2v8.4M289.3 412.5h8.4m-4.2 -4.2v8.4M303.3 410.5h8.4m-4.2 -4.2v8.4M315.3 375.5h8.4m-4.2 -4.2v8.4M312.3 370.5h8.4m-4.2 -4.2v8.4M315.3 391.5h8.4m-4.2 -4.2v8.4M315.3 423.5h8.4m-4.2 -4.2v8.4M326.3 421.5h8.4m-4.2 -4.2v8.4M298.3 370.5h8.4m-4.2 -4.2v8.4M297.3 377.5h8.4m-4.2 -4.2v8.4M295.3 398.5h8.4m-4.2 -4.2v8.4M305.3 367.5h8.4m-4.2 -4.2v8.4M303.3 362.5h8.4m-4.2 -4.2v8.4M300.3 408.5h8.4m-4.2 -4.2v8.4M305.3 386.5h8.4m-4.2 -4.2v8.4M274.3 409.5h8.4m-4.2 -4.2v8.4M293.3 375.5h8.4m-4.2 -4.2v8.4M317.3 382.5h8.4m-4.2 -4.2v8.4M282.3 419.5h8.4m-4.2 -4.2v8.4M302.3 402.5h8.4m-4.2 -4.2v8.4M299.3 363.5h8.4m-4.2 -4.2v8.4M304.3 392.5h8.4m-4.2 -4.2v8.4M303.3 360.5h8.4m-4.2 -4.2v8.4M281.3 355.5h8.4m-4.2 -4.2v8.4M307.3 401.5h8.4m-4.2 -4.2v8.4M302.3 362.5h8.4m-4.2 -4.2v8.4M298.3 374.5h8.4m-4.2 -4.2v8.4M305.3 356.5h8.4m-4.2 -4.2v8.4M298.3 362.5h8.4m-4.2 -4.2v8.4M268.3 394.5h8.4m-4.2 -4.2v8.4M295.3 369.5h8.4m-4.2 -4.2v8.4M282.3 383.5h8.4m-4.2 -4.2v8.4M295.3 393.5h8.4m-4.2 -4.2v8.4M287.3 372.5h8.4m-4.2 -4.2v8.4M304.3 365.5h8.4m-4.2 -4.2v8.4M308.3 367.5h8.4m-4.2 -4.2v8.4M310.3 422.5h8.4m-4.2 -4.2v8.4M301.3 386.5h8.4m-4.2 -4.2v8.4M306.3 412.5h8.4m-4.2 -4.2v8.4M300.3 414.5h8.4m-4.2 -4.2v8.4M310.3 419.5h8.4m-4.2 -4.2v8.4M309.3 399.5h8.4m-4.2 -4.2v8.4M312.3 369.5h8.4m-4.2 -4.2v8.4M296.3 404.5h8.4m-4.2 -4.2v8.4M302.3 394.5h8.4m-4.2 -4.2v8.4M303.3 416.5h8.4m-4.2 -4.2v8.4M311.3 377.5h8.4m-4.2 -4.2v8.4M323.3 408.5h8.4m-4.2 -4.2v8.4M297.3 343.5h8.4m-4.2 -4.2v8.4M306.3 389.5h8.4m-4.2 -4.2v8.4M283.3 386.5h8.4m-4.2 -4.2v8.4M282.3 359.5h8.4m-4.2 -4.2v8.4M329.3 416.5h8.4m-4.2 -4.2v8.4M303.3 416.5h8.4m-4.2 -4.2v8.4M291.3 378.5h8.4m-4.2 -4.2v8.4M301.3 410.5h8.4m-4.2 -4.2v8.4M296.3 420.5h8.4m-4.2 -4.2v8.4M288.3 402.5h8.4m-4.2 -4.2v8.4M298.3 388.5h8.4m-4.2 -4.2v8.4M295.3 408.5h8.4m-4.2 -4.2v8.4M298.3 390.5h8.4m-4.2 -4.2v8.4M305.3 402.5h8.4m-4.2 -4.2v8.4M309.3 407.5h8.4m-4.2 -4.2v8.4M312.3 382.5h8.4m-4.2 -4.2v8.4M311.3 407.5h8.4m-4.2 -4.2v8.4M317.3 398.5h8.4m-4.2 -4.2v8.4M281.3 403.5h8.4m-4.2 -4.2v8.4M291.3 381.5h8.4m-4.2 -4.2v8.4M296.3 412.5h8.4m-4.2 -4.2v8.4M310.3 367.5h8.4m-4.2 -4.2v8.4M293.3 396.5h8.4m-4.2 -4.2v8.4M325.3 399.5h8.4m-4.2 -4.2v8.4M299.3 342.5h8.4m-4.2 -4.2v8.4M292.3 415.5h8.4m-4.2 -4.2v8.4M295.3 401.5h8.4m-4.2 -4.2v8.4M284.3 357.5h8.4m-4.2 -4.2v8.4M314.3 417.5h8.4m-4.2 -4.2v8.4M296.3 410.5h8.4m-4.2 -4.2v8.4M326.3 420.5h8.4m-4.2 -4.2v8.4M318.3 408.5h8.4m-4.2 -4.2v8.4M293.3 397.5h8.4m-4.2 -4.2v8.4M314.3 414.5h8.4m-4.2 -4.2v8.4M293.3 387.5h8.4m-4.2 -4.2v8.4M294.3 393.5h8.4m-4.2 -4.2v8.4M301.3 387.5h8.4m-4.2 -4.2v8.4M320.3 384.5h8.4m-4.2 -4.2v8.4M330.3 422.5h8.4m-4.2 -4.2v8.4M303.3 398.5h8.4m-4.2 -4.2v8.4M292.3 398.5h8.4m-4.2 -4.2v8.4M299.3 385.5h8.4m-4.2 -4.2v8.4M305.3 376.5h8.4m-4.2 -4.2v8.4M286.3 422.5h8.4m-4.2 -4.2v8.4M293.3 411.5h8.4m-4.2 -4.2v8.4M321.3 396.5h8.4m-4.2 -4.2v8.4M280.3 403.5h8.4m-4.2 -4.2v8.4M304.3 417.5h8.4m-4.2 -4.2v8.4M299.3 388.5h8.4m-4.2 -4.2v8.4M265.3 381.5h8.4m-4.2 -4.2v8.4M321.3 396.5h8.4m-4.2 -4.2v8.4M298.3 395.5h8.4m-4.2 -4.2v8.4M314.3 416.5h8.4m-4.2 -4.2v8.4M330.3 419.5h8.4m-4.2 -4.2v8.4M313.3 418.5h8.4m-4.2 -4.2v8.4M289.3 409.5h8.4m-4.2 -4.2v8.4M319.3 399.5h8.4m-4.2 -4.2v8.4M316.3 370.5h8.4m-4.2 -4.2v8.4M323.3 421.5h8.4m-4.2 -4.2v8.4M298.3 417.5h8.4m-4.2 -4.2v8.4M309.3 399.5h8.4m-4.2 -4.2v8.4M290.3 412.5h8.4m-4.2 -4.2v8.4M307.3 420.5h8.4m-4.2 -4.2v8.4M295.3 383.5h8.4m-4.2 -4.2v8.4M288.3 402.5h8.4m-4.2 -4.2v8.4M330.3 423.5h8.4m-4.2 -4.2v8.4M300.3 375.5h8.4m-4.2 -4.2v8.4M304.3 422.5h8.4m-4.2 -4.2v8.4M300.3 419.5h8.4m-4.2 -4.2v8.4M298.3 351.5h8.4m-4.2 -4.2v8.4M312.3 402.5h8.4m-4.2 -4.2v8.4M312.3 406.5h8.4m-4.2 -4.2v8.4M321.3 410.5h8.4m-4.2 -4.2v8.4M318.3 405.5h8.4m-4.2 -4.2v8.4M322.3 401.5h8.4m-4.2 -4.2v8.4M309.3 404.5h8.4m-4.2 -4.2v8.4M301.3 405.5h8.4m-4.2 -4.2v8.4M308.3 359.5h8.4m-4.2 -4.2v8.4M300.3 370.5h8.4m-4.2 -4.2v8.4M308.3 381.5h8.4m-4.2 -4.2v8.4M296.3 421.5h8.4m-4.2 -4.2v8.4M302.3 395.5h8.4m-4.2 -4.2v8.4M292.3 404.5h8.4m-4.2 -4.2v8.4M309.3 372.5h8.4m-4.2 -4.2v8.4M298.3 381.5h8.4m-4.2 -4.2v8.4M287.3 421.5h8.4m-4.2 -4.2v8.4M303.3 410.5h8.4m-4.2 -4.2v8.4M290.3 364.5h8.4m-4.2 -4.2v8.4M302.3 356.5h8.4m-4.2 -4.2v8.4M291.3 369.5h8.4m-4.2 -4.2v8.4M314.3 421.5h8.4m-4.2 -4.2v8.4M291.3 392.5h8.4m-4.2 -4.2v8.4M296.3 418.5h8.4m-4.2 -4.2v8.4M278.3 417.5h8.4m-4.2 -4.2v8.4M327.3 423.5h8.4m-4.2 -4.2v8.4M277.3 400.5h8.4m-4.2 -4.2v8.4M280.3 380.5h8.4m-4.2 -4.2v8.4M285.3 398.5h8.4m-4.2 -4.2v8.4M316.3 419.5h8.4m-4.2 -4.2v8.4M289.3 422.5h8.4m-4.2 -4.2v8.4M293.3 390.5h8.4m-4.2 -4.2v8.4M309.3 396.5h8.4m-4.2 -4.2v8.4M291.3 415.5h8.4m-4.2 -4.2v8.4M299.3 390.5h8.4m-4.2 -4.2v8.4M304.3 377.5h8.4m-4.2 -4.2v8.4M307.3 380.5h8.4m-4.2 -4.2v8.4M309.3 396.5h8.4m-4.2 -4.2v8.4M306.3 376.5h8.4m-4.2 -4.2v8.4M305.3 413.5h8.4m-4.2 -4.2v8.4M277.3 421.5h8.4m-4.2 -4.2v8.4M320.3 412.5h8.4m-4.2 -4.2v8.4M297.3 394.5h8.4m-4.2 -4.2v8.4M302.3 371.5h8.4m-4.2 -4.2v8.4M328.3 419.5h8.4m-4.2 -4.2v8.4M299.3 406.5h8.4m-4.2 -4.2v8.4M303.3 361.5h8.4m-4.2 -4.2v8.4M296.3 397.5h8.4m-4.2 -4.2v8.4M306.3 413.5h8.4m-4.2 -4.2v8.4M298.3 415.5h8.4m-4.2 -4.2v8.4M307.3 417.5h8.4m-4.2 -4.2v8.4M291.3 420.5h8.4m-4.2 -4.2v8.4M294.3 396.5h8.4m-4.2 -4.2v8.4M304.3 408.5h8.4m-4.2 -4.2v8.4M297.3 356.5h8.4m-4.2 -4.2v8.4M317.3 407.5h8.4m-4.2 -4.2v8.4M292.3 398.5h8.4m-4.2 -4.2v8.4M304.3 374.5h8.4m-4.2 -4.2v8.4M292.3 378.5h8.4m-4.2 -4.2v8.4M304.3 410.5h8.4m-4.2 -4.2v8.4M293.3 375.5h8.4m-4.2 -4.2v8.4M301.3 386.5h8.4m-4.2 -4.2v8.4M288.3 413.5h8.4m-4.2 -4.2v8.4M308.3 372.5h8.4m-4.2 -4.2v8.4M293.3 357.5h8.4m-4.2 -4.2v8.4M303.3 371.5h8.4m-4.2 -4.2v8.4M295.3 410.5h8.4m-4.2 -4.2v8.4M304.3 352.5h8.4m-4.2 -4.2v8.4M321.3 401.5h8.4m-4.2 -4.2v8.4M312.3 398.5h8.4m-4.2 -4.2v8.4M304.3 388.5h8.4m-4.2 -4.2v8.4M318.3 386.5h8.4m-4.2 -4.2v8.4M297.3 400.5h8.4m-4.2 -4.2v8.4M288.3 354.5h8.4m-4.2 -4.2v8.4M297.3 384.5h8.4m-4.2 -4.2v8.4M302.3 391.5h8.4m-4.2 -4.2v8.4M300.3 366.5h8.4m-4.2 -4.2v8.4M295.3 399.5h8.4m-4.2 -4.2v8.4M308.3 383.5h8.4m-4.2 -4.2v8.4M292.3 355.5h8.4m-4.2 -4.2v8.4M308.3 385.5h8.4m-4.2 -4.2v8.4M284.3 407.5h8.4m-4.2 -4.2v8.4M303.3 415.5h8.4m-4.2 -4.2v8.4M275.3 396.5h8.4m-4.2 -4.2v8.4M307.3 351.5h8.4m-4.2 -4.2v8.4M291.3 404.5h8.4m-4.2 -4.2v8.4M283.3 420.5h8.4m-4.2 -4.2v8.4M298.3 352.5h8.4m-4.2 -4.2v8.4M284.3 386.5h8.4m-4.2 -4.2v8.4M302.3 345.5h8.4m-4.2 -4.2v8.4M297.3 402.5h8.4m-4.2 -4.2v8.4M310.3 361.5h8.4m-4.2 -4.2v8.4M314.3 422.5h8.4m-4.2 -4.2v8.4M293.3 391.5h8.4m-4.2 -4.2v8.4M310.3 405.5h8.4m-4.2 -4.2v8.4M311.3 385.5h8.4m-4.2 -4.2v8.4M321.3 385.5h8.4m-4.2 -4.2v8.4M273.3 290.5h8.4m-4.2 -4.2v8.4M287.3 424.5h8.4m-4.2 -4.2v8.4M270.3 390.5h8.4m-4.2 -4.2v8.4M276.3 393.5h8.4m-4.2 -4.2v8.4M296.3 381.5h8.4m-4.2 -4.2v8.4M277.3 371.5h8.4m-4.2 -4.2v8.4M290.3 313.5h8.4m-4.2 -4.2v8.4M259.3 287.5h8.4m-4.2 -4.2v8.4M278.3 327.5h8.4m-4.2 -4.2v8.4M277.3 260.5h8.4m-4.2 -4.2v8.4M290.3 386.5h8.4m-4.2 -4.2v8.4M285.3 309.5h8.4m-4.2 -4.2v8.4M295.3 418.5h8.4m-4.2 -4.2v8.4M284.3 288.5h8.4m-4.2 -4.2v8.4M255.3 340.5h8.4m-4.2 -4.2v8.4M265.3 412.5h8.4m-4.2 -4.2v8.4M266.3 386.5h8.4m-4.2 -4.2v8.4M267.3 357.5h8.4m-4.2 -4.2v8.4M292.3 398.5h8.4m-4.2 -4.2v8.4M282.3 355.5h8.4m-4.2 -4.2v8.4M282.3 302.5h8.4m-4.2 -4.2v8.4M291.3 424.5h8.4m-4.2 -4.2v8.4M288.3 413.5h8.4m-4.2 -4.2v8.4M271.3 399.5h8.4m-4.2 -4.2v8.4M289.3 332.5h8.4m-4.2 -4.2v8.4M291.3 371.5h8.4m-4.2 -4.2v8.4M282.3 281.5h8.4m-4.2 -4.2v8.4M286.3 264.5h8.4m-4.2 -4.2v8.4M283.3 420.5h8.4m-4.2 -4.2v8.4M278.3 358.5h8.4m-4.2 -4.2v8.4M275.3 319.5h8.4m-4.2 -4.2v8.4M280.3 405.5h8.4m-4.2 -4.2v8.4M283.3 373.5h8.4m-4.2 -4.2v8.4M288.3 391.5h8.4m-4.2 -4.2v8.4M277.3 287.5h8.4m-4.2 -4.2v8.4M266.3 362.5h8.4m-4.2 -4.2v8.4M288.3 356.5h8.4m-4.2 -4.2v8.4M256.3 335.5h8.4m-4.2 -4.2v8.4M263.3 308.5h8.4m-4.2 -4.2v8.4M282.3 413.5h8.4m-4.2 -4.2v8.4M296.3 400.5h8.4m-4.2 -4.2v8.4M272.3 378.5h8.4m-4.2 -4.2v8.4M288.3 331.5h8.4m-4.2 -4.2v8.4M287.3 387.5h8.4m-4.2 -4.2v8.4M287.3 356.5h8.4m-4.2 -4.2v8.4M264.3 250.5h8.4m-4.2 -4.2v8.4M298.3 386.5h8.4m-4.2 -4.2v8.4M289.3 391.5h8.4m-4.2 -4.2v8.4M267.3 422.5h8.4m-4.2 -4.2v8.4M296.3 408.5h8.4m-4.2 -4.2v8.4M272.3 278.5h8.4m-4.2 -4.2v8.4M290.3 339.5h8.4m-4.2 -4.2v8.4M279.3 266.5h8.4m-4.2 -4.2v8.4M287.3 274.5h8.4m-4.2 -4.2v8.4M295.3 365.5h8.4m-4.2 -4.2v8.4M282.3 316.5h8.4m-4.2 -4.2v8.4M281.3 272.5h8.4m-4.2 -4.2v8.4M260.3 386.5h8.4m-4.2 -4.2v8.4M296.3 418.5h8.4m-4.2 -4.2v8.4M294.3 408.5h8.4m-4.2 -4.2v8.4M286.3 269.5h8.4m-4.2 -4.2v8.4M287.3 336.5h8.4m-4.2 -4.2v8.4M276.3 264.5h8.4m-4.2 -4.2v8.4M290.3 358.5h8.4m-4.2 -4.2v8.4M290.3 419.5h8.4m-4.2 -4.2v8.4M275.3 312.5h8.4m-4.2 -4.2v8.4M300.3 398.5h8.4m-4.2 -4.2v8.4M282.3 369.5h8.4m-4.2 -4.2v8.4M262.3 373.5h8.4m-4.2 -4.2v8.4M262.3 409.5h8.4m-4.2 -4.2v8.4M273.3 338.5h8.4m-4.2 -4.2v8.4M277.3 341.5h8.4m-4.2 -4.2v8.4M287.3 399.5h8.4m-4.2 -4.2v8.4M253.3 297.5h8.4m-4.2 -4.2v8.4M275.3 287.5h8.4m-4.2 -4.2v8.4M295.3 356.5h8.4m-4.2 -4.2v8.4M289.3 354.5h8.4m-4.2 -4.2v8.4M285.3 337.5h8.4m-4.2 -4.2v8.4M278.3 327.5h8.4m-4.2 -4.2v8.4M298.3 414.5h8.4m-4.2 -4.2v8.4M260.3 356.5h8.4m-4.2 -4.2v8.4M288.3 338.5h8.4m-4.2 -4.2v8.4M293.3 404.5h8.4m-4.2 -4.2v8.4M281.3 411.5h8.4m-4.2 -4.2v8.4M284.3 395.5h8.4m-4.2 -4.2v8.4M272.3 422.5h8.4m-4.2 -4.2v8.4M245.3 292.5h8.4m-4.2 -4.2v8.4M274.3 362.5h8.4m-4.2 -4.2v8.4M279.3 407.5h8.4m-4.2 -4.2v8.4M288.3 423.5h8.4m-4.2 -4.2v8.4M270.3 314.5h8.4m-4.2 -4.2v8.4M297.3 400.5h8.4m-4.2 -4.2v8.4M260.3 317.5h8.4m-4.2 -4.2v8.4M291.3 354.5h8.4m-4.2 -4.2v8.4M287.3 401.5h8.4m-4.2 -4.2v8.4M273.3 403.5h8.4m-4.2 -4.2v8.4M284.3 271.5h8.4m-4.2 -4.2v8.4M279.3 327.5h8.4m-4.2 -4.2v8.4M268.3 422.5h8.4m-4.2 -4.2v8.4M295.3 379.5h8.4m-4.2 -4.2v8.4M273.3 380.5h8.4m-4.2 -4.2v8.4M280.3 327.5h8.4m-4.2 -4.2v8.4M287.3 363.5h8.4m-4.2 -4.2v8.4M286.3 330.5h8.4m-4.2 -4.2v8.4M281.3 297.5h8.4m-4.2 -4.2v8.4M289.3 333.5h8.4m-4.2 -4.2v8.4M292.3 378.5h8.4m-4.2 -4.2v8.4M268.3 373.5h8.4m-4.2 -4.2v8.4M284.3 373.5h8.4m-4.2 -4.2v8.4M279.3 345.5h8.4m-4.2 -4.2v8.4M263.3 360.5h8.4m-4.2 -4.2v8.4M284.3 413.5h8.4m-4.2 -4.2v8.4M296.3 418.5h8.4m-4.2 -4.2v8.4M285.3 416.5h8.4m-4.2 -4.2v8.4M272.3 322.5h8.4m-4.2 -4.2v8.4M283.3 387.5h8.4m-4.2 -4.2v8.4M288.3 402.5h8.4m-4.2 -4.2v8.4M288.3 342.5h8.4m-4.2 -4.2v8.4M293.3 367.5h8.4m-4.2 -4.2v8.4M278.3 412.5h8.4m-4.2 -4.2v8.4M275.3 395.5h8.4m-4.2 -4.2v8.4M277.3 398.5h8.4m-4.2 -4.2v8.4M285.3 278.5h8.4m-4.2 -4.2v8.4M285.3 269.5h8.4m-4.2 -4.2v8.4M278.3 394.5h8.4m-4.2 -4.2v8.4M294.3 380.5h8.4m-4.2 -4.2v8.4M277.3 306.5h8.4m-4.2 -4.2v8.4M285.3 251.5h8.4m-4.2 -4.2v8.4M279.3 322.5h8.4m-4.2 -4.2v8.4M296.3 386.5h8.4m-4.2 -4.2v8.4M282.3 348.5h8.4m-4.2 -4.2v8.4M278.3 389.5h8.4m-4.2 -4.2v8.4M286.3 301.5h8.4m-4.2 -4.2v8.4M277.3 389.5h8.4m-4.2 -4.2v8.4M283.3 289.5h8.4m-4.2 -4.2v8.4M288.3 416.5h8.4m-4.2 -4.2v8.4M270.3 327.5h8.4m-4.2 -4.2v8.4M271.3 251.5h8.4m-4.2 -4.2v8.4M298.3 406.5h8.4m-4.2 -4.2v8.4M270.3 340.5h8.4m-4.2 -4.2v8.4M259.3 356.5h8.4m-4.2 -4.2v8.4M287.3 299.5h8.4m-4.2 -4.2v8.4M258.3 315.5h8.4m-4.2 -4.2v8.4M269.3 354.5h8.4m-4.2 -4.2v8.4M277.3 334.5h8.4m-4.2 -4.2v8.4M291.3 371.5h8.4m-4.2 -4.2v8.4M292.3 329.5h8.4m-4.2 -4.2v8.4M267.3 361.5h8.4m-4.2 -4.2v8.4M261.3 260.5h8.4m-4.2 -4.2v8.4M297.3 370.5h8.4m-4.2 -4.2v8.4M286.3 383.5h8.4m-4.2 -4.2v8.4M298.3 416.5h8.4m-4.2 -4.2v8.4M279.3 397.5h8.4m-4.2 -4.2v8.4M265.3 278.5h8.4m-4.2 -4.2v8.4M292.3 348.5h8.4m-4.2 -4.2v8.4M272.3 401.5h8.4m-4.2 -4.2v8.4M275.3 397.5h8.4m-4.2 -4.2v8.4M268.3 269.5h8.4m-4.2 -4.2v8.4M266.3 260.5h8.4m-4.2 -4.2v8.4M266.3 369.5h8.4m-4.2 -4.2v8.4M272.3 362.5h8.4m-4.2 -4.2v8.4M260.3 297.5h8.4m-4.2 -4.2v8.4M279.3 329.5h8.4m-4.2 -4.2v8.4M286.3 346.5h8.4m-4.2 -4.2v8.4M286.3 404.5h8.4m-4.2 -4.2v8.4M255.3 328.5h8.4m-4.2 -4.2v8.4M289.3 406.5h8.4m-4.2 -4.2v8.4M293.3 410.5h8.4m-4.2 -4.2v8.4M262.3 325.5h8.4m-4.2 -4.2v8.4M286.3 411.5h8.4m-4.2 -4.2v8.4M287.3 279.5h8.4m-4.2 -4.2v8.4M291.3 352.5h8.4m-4.2 -4.2v8.4M272.3 285.5h8.4m-4.2 -4.2v8.4M268.3 341.5h8.4m-4.2 -4.2v8.4M262.3 333.5h8.4m-4.2 -4.2v8.4M261.3 402.5h8.4m-4.2 -4.2v8.4M275.3 409.5h8.4m-4.2 -4.2v8.4M279.3 343.5h8.4m-4.2 -4.2v8.4M279.3 344.5h8.4m-4.2 -4.2v8.4M273.3 422.5h8.4m-4.2 -4.2v8.4M273.3 304.5h8.4m-4.2 -4.2v8.4M279.3 366.5h8.4m-4.2 -4.2v8.4M293.3 382.5h8.4m-4.2 -4.2v8.4M297.3 390.5h8.4m-4.2 -4.2v8.4M289.3 301.5h8.4m-4.2 -4.2v8.4M278.3 340.5h8.4m-4.2 -4.2v8.4M286.3 300.5h8.4m-4.2 -4.2v8.4M289.3 401.5h8.4m-4.2 -4.2v8.4M265.3 398.5h8.4m-4.2 -4.2v8.4M264.3 408.5h8.4m-4.2 -4.2v8.4M285.3 359.5h8.4m-4.2 -4.2v8.4M278.3 257.5h8.4m-4.2 -4.2v8.4M292.3 416.5h8.4m-4.2 -4.2v8.4M273.3 287.5h8.4m-4.2 -4.2v8.4M280.3 320.5h8.4m-4.2 -4.2v8.4M278.3 261.5h8.4m-4.2 -4.2v8.4M287.3 354.5h8.4m-4.2 -4.2v8.4M268.3 394.5h8.4m-4.2 -4.2v8.4M286.3 419.5h8.4m-4.2 -4.2v8.4M276.3 376.5h8.4m-4.2 -4.2v8.4M273.3 281.5h8.4m-4.2 -4.2v8.4M282.3 414.5h8.4m-4.2 -4.2v8.4M252.3 284.5h8.4m-4.2 -4.2v8.4M285.3 315.5h8.4m-4.2 -4.2v8.4M277.3 319.5h8.4m-4.2 -4.2v8.4M298.3 415.5h8.4m-4.2 -4.2v8.4M255.3 356.5h8.4m-4.2 -4.2v8.4M266.3 410.5h8.4m-4.2 -4.2v8.4M265.3 378.5h8.4m-4.2 -4.2v8.4M294.3 367.5h8.4m-4.2 -4.2v8.4M286.3 404.5h8.4m-4.2 -4.2v8.4M284.3 317.5h8.4m-4.2 -4.2v8.4M256.3 330.5h8.4m-4.2 -4.2v8.4M295.3 417.5h8.4m-4.2 -4.2v8.4M262.3 384.5h8.4m-4.2 -4.2v8.4M293.3 351.5h8.4m-4.2 -4.2v8.4M284.3 387.5h8.4m-4.2 -4.2v8.4M299.3 400.5h8.4m-4.2 -4.2v8.4M289.3 396.5h8.4m-4.2 -4.2v8.4M286.3 371.5h8.4m-4.2 -4.2v8.4M268.3 386.5h8.4m-4.2 -4.2v8.4M281.3 323.5h8.4m-4.2 -4.2v8.4M290.3 367.5h8.4m-4.2 -4.2v8.4M290.3 414.5h8.4m-4.2 -4.2v8.4M293.3 417.5h8.4m-4.2 -4.2v8.4M284.3 258.5h8.4m-4.2 -4.2v8.4M284.3 327.5h8.4m-4.2 -4.2v8.4M282.3 328.5h8.4m-4.2 -4.2v8.4M280.3 342.5h8.4m-4.2 -4.2v8.4M277.3 337.5h8.4m-4.2 -4.2v8.4M285.3 332.5h8.4m-4.2 -4.2v8.4M292.3 366.5h8.4m-4.2 -4.2v8.4M285.3 324.5h8.4m-4.2 -4.2v8.4M265.3 398.5h8.4m-4.2 -4.2v8.4M262.3 260.5h8.4m-4.2 -4.2v8.4M291.3 422.5h8.4m-4.2 -4.2v8.4M278.3 311.5h8.4m-4.2 -4.2v8.4M299.3 415.5h8.4m-4.2 -4.2v8.4M299.3 393.5h8.4m-4.2 -4.2v8.4M299.3 414.5h8.4m-4.2 -4.2v8.4M285.3 360.5h8.4m-4.2 -4.2v8.4M286.3 341.5h8.4m-4.2 -4.2v8.4M295.3 384.5h8.4m-4.2 -4.2v8.4M259.3 313.5h8.4m-4.2 -4.2v8.4M273.3 358.5h8.4m-4.2 -4.2v8.4M255.3 376.5h8.4m-4.2 -4.2v8.4M278.3 292.5h8.4m-4.2 -4.2v8.4M299.3 406.5h8.4m-4.2 -4.2v8.4M250.3 364.5h8.4m-4.2 -4.2v8.4M264.3 374.5h8.4m-4.2 -4.2v8.4M271.3 393.5h8.4m-4.2 -4.2v8.4M296.3 416.5h8.4m-4.2 -4.2v8.4M269.3 297.5h8.4m-4.2 -4.2v8.4M262.3 312.5h8.4m-4.2 -4.2v8.4M269.3 292.5h8.4m-4.2 -4.2v8.4M277.3 422.5h8.4m-4.2 -4.2v8.4M270.3 360.5h8.4m-4.2 -4.2v8.4M287.3 397.5h8.4m-4.2 -4.2v8.4M281.3 305.5h8.4m-4.2 -4.2v8.4M277.3 419.5h8.4m-4.2 -4.2v8.4M276.3 293.5h8.4m-4.2 -4.2v8.4M258.3 392.5h8.4m-4.2 -4.2v8.4M286.3 260.5h8.4m-4.2 -4.2v8.4M267.3 412.5h8.4m-4.2 -4.2v8.4M282.3 353.5h8.4m-4.2 -4.2v8.4M299.3 387.5h8.4m-4.2 -4.2v8.4M276.3 383.5h8.4m-4.2 -4.2v8.4M267.3 315.5h8.4m-4.2 -4.2v8.4M289.3 363.5h8.4m-4.2 -4.2v8.4M270.3 250.5h8.4m-4.2 -4.2v8.4M276.3 404.5h8.4m-4.2 -4.2v8.4M284.3 363.5h8.4m-4.2 -4.2v8.4M288.3 332.5h8.4m-4.2 -4.2v8.4M286.3 354.5h8.4m-4.2 -4.2v8.4M269.3 356.5h8.4m-4.2 -4.2v8.4M280.3 303.5h8.4m-4.2 -4.2v8.4M293.3 349.5h8.4m-4.2 -4.2v8.4M271.3 392.5h8.4m-4.2 -4.2v8.4M288.3 378.5h8.4m-4.2 -4.2v8.4M287.3 425.5h8.4m-4.2 -4.2v8.4M291.3 400.5h8.4m-4.2 -4.2v8.4M269.3 409.5h8.4m-4.2 -4.2v8.4M263.3 300.5h8.4m-4.2 -4.2v8.4M276.3 373.5h8.4m-4.2 -4.2v8.4M288.3 324.5h8.4m-4.2 -4.2v8.4M272.3 323.5h8.4m-4.2 -4.2v8.4M272.3 342.5h8.4m-4.2 -4.2v8.4M291.3 379.5h8.4m-4.2 -4.2v8.4M263.3 357.5h8.4m-4.2 -4.2v8.4M273.3 354.5h8.4m-4.2 -4.2v8.4M281.3 349.5h8.4m-4.2 -4.2v8.4M282.3 424.5h8.4m-4.2 -4.2v8.4M284.3 358.5h8.4m-4.2 -4.2v8.4M290.3 418.5h8.4m-4.2 -4.2v8.4M271.3 425.5h8.4m-4.2 -4.2v8.4M266.3 386.5h8.4m-4.2 -4.2v8.4M296.3 423.5h8.4m-4.2 -4.2v8.4M285.3 425.5h8.4m-4.2 -4.2v8.4M270.3 407.5h8.4m-4.2 -4.2v8.4M263.3 397.5h8.4m-4.2 -4.2v8.4M273.3 319.5h8.4m-4.2 -4.2v8.4M286.3 310.5h8.4m-4.2 -4.2v8.4M260.3 269.5h8.4m-4.2 -4.2v8.4M292.3 318.5h8.4m-4.2 -4.2v8.4M254.3 374.5h8.4m-4.2 -4.2v8.4M284.3 361.5h8.4m-4.2 -4.2v8.4M292.3 401.5h8.4m-4.2 -4.2v8.4M279.3 336.5h8.4m-4.2 -4.2v8.4M273.3 386.5h8.4m-4.2 -4.2v8.4M272.3 348.5h8.4m-4.2 -4.2v8.4M278.3 319.5h8.4m-4.2 -4.2v8.4M298.3 403.5h8.4m-4.2 -4.2v8.4M275.3 335.5h8.4m-4.2 -4.2v8.4M276.3 373.5h8.4m-4.2 -4.2v8.4M273.3 326.5h8.4m-4.2 -4.2v8.4M299.3 389.5h8.4m-4.2 -4.2v8.4M266.3 307.5h8.4m-4.2 -4.2v8.4M259.3 272.5h8.4m-4.2 -4.2v8.4M296.3 386.5h8.4m-4.2 -4.2v8.4M264.3 369.5h8.4m-4.2 -4.2v8.4M295.3 389.5h8.4m-4.2 -4.2v8.4M277.3 278.5h8.4m-4.2 -4.2v8.4M300.3 403.5h8.4m-4.2 -4.2v8.4M266.3 267.5h8.4m-4.2 -4.2v8.4M298.3 421.5h8.4m-4.2 -4.2v8.4M267.3 420.5h8.4m-4.2 -4.2v8.4M295.3 406.5h8.4m-4.2 -4.2v8.4M271.3 339.5h8.4m-4.2 -4.2v8.4M282.3 389.5h8.4m-4.2 -4.2v8.4M297.3 425.5h8.4m-4.2 -4.2v8.4M289.3 397.5h8.4m-4.2 -4.2v8.4M282.3 390.5h8.4m-4.2 -4.2v8.4M264.3 261.5h8.4m-4.2 -4.2v8.4M281.3 263.5h8.4m-4.2 -4.2v8.4M282.3 387.5h8.4m-4.2 -4.2v8.4M250.3 363.5h8.4m-4.2 -4.2v8.4M252.3 342.5h8.4m-4.2 -4.2v8.4M259.3 380.5h8.4m-4.2 -4.2v8.4M246.3 323.5h8.4m-4.2 -4.2v8.4M251.3 398.5h8.4m-4.2 -4.2v8.4M258.3 331.5h8.4m-4.2 -4.2v8.4M256.3 285.5h8.4m-4.2 -4.2v8.4M253.3 409.5h8.4m-4.2 -4.2v8.4M248.3 348.5h8.4m-4.2 -4.2v8.4M246.3 399.5h8.4m-4.2 -4.2v8.4M252.3 298.5h8.4m-4.2 -4.2v8.4M257.3 310.5h8.4m-4.2 -4.2v8.4M250.3 346.5h8.4m-4.2 -4.2v8.4M261.3 398.5h8.4m-4.2 -4.2v8.4M187.3 428.5h8.4m-4.2 -4.2v8.4M213.3 429.5h8.4m-4.2 -4.2v8.4M226.3 428.5h8.4m-4.2 -4.2v8.4M205.3 433.5h8.4m-4.2 -4.2v8.4M208.3 432.5h8.4m-4.2 -4.2v8.4M237.3 432.5h8.4m-4.2 -4.2v8.4M213.3 432.5h8.4m-4.2 -4.2v8.4M222.3 431.5h8.4m-4.2 -4.2v8.4M221.3 435.5h8.4m-4.2 -4.2v8.4M234.3 433.5h8.4m-4.2 -4.2v8.4M202.3 432.5h8.4m-4.2 -4.2v8.4M214.3 430.5h8.4m-4.2 -4.2v8.4M194.3 431.5h8.4m-4.2 -4.2v8.4M201.3 430.5h8.4m-4.2 -4.2v8.4M230.3 431.5h8.4m-4.2 -4.2v8.4M238.3 431.5h8.4m-4.2 -4.2v8.4M201.3 430.5h8.4m-4.2 -4.2v8.4M226.3 428.5h8.4m-4.2 -4.2v8.4M213.3 429.5h8.4m-4.2 -4.2v8.4M222.3 431.5h8.4m-4.2 -4.2v8.4M203.3 431.5h8.4m-4.2 -4.2v8.4M202.3 431.5h8.4m-4.2 -4.2v8.4M194.3 429.5h8.4m-4.2 -4.2v8.4M211.3 432.5h8.4m-4.2 -4.2v8.4M185.3 430.5h8.4m-4.2 -4.2v8.4M232.3 429.5h8.4m-4.2 -4.2v8.4M196.3 432.5h8.4m-4.2 -4.2v8.4M219.3 431.5h8.4m-4.2 -4.2v8.4M211.3 431.5h8.4m-4.2 -4.2v8.4M202.3 429.5h8.4m-4.2 -4.2v8.4M237.3 428.5h8.4m-4.2 -4.2v8.4M232.3 431.5h8.4m-4.2 -4.2v8.4M225.3 429.5h8.4m-4.2 -4.2v8.4M188.3 429.5h8.4m-4.2 -4.2v8.4M209.3 431.5h8.4m-4.2 -4.2v8.4M220.3 428.5h8.4m-4.2 -4.2v8.4M187.3 430.5h8.4m-4.2 -4.2v8.4M223.3 430.5h8.4m-4.2 -4.2v8.4M230.3 431.5h8.4m-4.2 -4.2v8.4M238.3 433.5h8.4m-4.2 -4.2v8.4M211.3 432.5h8.4m-4.2 -4.2v8.4M183.3 428.5h8.4m-4.2 -4.2v8.4M194.3 433.5h8.4m-4.2 -4.2v8.4M229.3 431.5h8.4m-4.2 -4.2v8.4M190.3 430.5h8.4m-4.2 -4.2v8.4M218.3 431.5h8.4m-4.2 -4.2v8.4M220.3 428.5h8.4m-4.2 -4.2v8.4M208.3 430.5h8.4m-4.2 -4.2v8.4M228.3 430.5h8.4m-4.2 -4.2v8.4M189.3 431.5h8.4m-4.2 -4.2v8.4M218.3 430.5h8.4m-4.2 -4.2v8.4M204.3 428.5h8.4m-4.2 -4.2v8.4M232.3 429.5h8.4m-4.2 -4.2v8.4M205.3 428.5h8.4m-4.2 -4.2v8.4M193.3 432.5h8.4m-4.2 -4.2v8.4M202.3 430.5h8.4m-4.2 -4.2v8.4M212.3 428.5h8.4m-4.2 -4.2v8.4M186.3 431.5h8.4m-4.2 -4.2v8.4M232.3 430.5h8.4m-4.2 -4.2v8.4M220.3 430.5h8.4m-4.2 -4.2v8.4M200.3 430.5h8.4m-4.2 -4.2v8.4M217.3 431.5h8.4m-4.2 -4.2v8.4M240.3 430.5h8.4m-4.2 -4.2v8.4M217.3 431.5h8.4m-4.2 -4.2v8.4M205.3 430.5h8.4m-4.2 -4.2v8.4M222.3 430.5h8.4m-4.2 -4.2v8.4M226.3 429.5h8.4m-4.2 -4.2v8.4M222.3 428.5h8.4m-4.2 -4.2v8.4M194.3 433.5h8.4m-4.2 -4.2v8.4M183.3 433.5h8.4m-4.2 -4.2v8.4M200.3 430.5h8.4m-4.2 -4.2v8.4M207.3 430.5h8.4m-4.2 -4.2v8.4M231.3 431.5h8.4m-4.2 -4.2v8.4M187.3 429.5h8.4m-4.2 -4.2v8.4M231.3 429.5h8.4m-4.2 -4.2v8.4M185.3 430.5h8.4m-4.2 -4.2v8.4M200.3 430.5h8.4m-4.2 -4.2v8.4M205.3 431.5h8.4m-4.2 -4.2v8.4M236.3 428.5h8.4m-4.2 -4.2v8.4M237.3 431.5h8.4m-4.2 -4.2v8.4M184.3 431.5h8.4m-4.2 -4.2v8.4M193.3 429.5h8.4m-4.2 -4.2v8.4M208.3 432.5h8.4m-4.2 -4.2v8.4M198.3 431.5h8.4m-4.2 -4.2v8.4M238.3 432.5h8.4m-4.2 -4.2v8.4M218.3 432.5h8.4m-4.2 -4.2v8.4M201.3 432.5h8.4m-4.2 -4.2v8.4M217.3 429.5h8.4m-4.2 -4.2v8.4M221.3 431.5h8.4m-4.2 -4.2v8.4M232.3 431.5h8.4m-4.2 -4.2v8.4M234.3 432.5h8.4m-4.2 -4.2v8.4M206.3 431.5h8.4m-4.2 -4.2v8.4M226.3 429.5h8.4m-4.2 -4.2v8.4M239.3 430.5h8.4m-4.2 -4.2v8.4M213.3 432.5h8.4m-4.2 -4.2v8.4M225.3 431.5h8.4m-4.2 -4.2v8.4M210.3 430.5h8.4m-4.2 -4.2v8.4M204.3 429.5h8.4m-4.2 -4.2v8.4M193.3 429.5h8.4m-4.2 -4.2v8.4M187.3 428.5h8.4m-4.2 -4.2v8.4M274.3 434.5h8.4m-4.2 -4.2v8.4M313.3 436.5h8.4m-4.2 -4.2v8.4M239.3 427.5h8.4m-4.2 -4.2v8.4M323.3 431.5h8.4m-4.2 -4.2v8.4M310.3 432.5h8.4m-4.2 -4.2v8.4M331.3 434.5h8.4m-4.2 -4.2v8.4M320.3 430.5h8.4m-4.2 -4.2v8.4M315.3 432.5h8.4m-4.2 -4.2v8.4M267.3 435.5h8.4m-4.2 -4.2v8.4M314.3 430.5h8.4m-4.2 -4.2v8.4M296.3 431.5h8.4m-4.2 -4.2v8.4M272.3 432.5h8.4m-4.2 -4.2v8.4M317.3 433.5h8.4m-4.2 -4.2v8.4M286.3 432.5h8.4m-4.2 -4.2v8.4M334.3 429.5h8.4m-4.2 -4.2v8.4M309.3 431.5h8.4m-4.2 -4.2v8.4M324.3 434.5h8.4m-4.2 -4.2v8.4M326.3 426.5h8.4m-4.2 -4.2v8.4M295.3 429.5h8.4m-4.2 -4.2v8.4M325.3 430.5h8.4m-4.2 -4.2v8.4M296.3 432.5h8.4m-4.2 -4.2v8.4M288.3 437.5h8.4m-4.2 -4.2v8.4M335.3 435.5h8.4m-4.2 -4.2v8.4M306.3 437.5h8.4m-4.2 -4.2v8.4M305.3 430.5h8.4m-4.2 -4.2v8.4M334.3 432.5h8.4m-4.2 -4.2v8.4M300.3 435.5h8.4m-4.2 -4.2v8.4M239.3 429.5h8.4m-4.2 -4.2v8.4M304.3 430.5h8.4m-4.2 -4.2v8.4M299.3 426.5h8.4m-4.2 -4.2v8.4M309.3 435.5h8.4m-4.2 -4.2v8.4M333.3 429.5h8.4m-4.2 -4.2v8.4M310.3 428.5h8.4m-4.2 -4.2v8.4M335.3 431.5h8.4m-4.2 -4.2v8.4M315.3 429.5h8.4m-4.2 -4.2v8.4M334.3 430.5h8.4m-4.2 -4.2v8.4M281.3 431.5h8.4m-4.2 -4.2v8.4M262.3 431.5h8.4m-4.2 -4.2v8.4M292.3 436.5h8.4m-4.2 -4.2v8.4M325.3 432.5h8.4m-4.2 -4.2v8.4M322.3 427.5h8.4m-4.2 -4.2v8.4M303.3 433.5h8.4m-4.2 -4.2v8.4M278.3 431.5h8.4m-4.2 -4.2v8.4M265.3 431.5h8.4m-4.2 -4.2v8.4M241.3 432.5h8.4m-4.2 -4.2v8.4M279.3 434.5h8.4m-4.2 -4.2v8.4M287.3 426.5h8.4m-4.2 -4.2v8.4M334.3 431.5h8.4m-4.2 -4.2v8.4M294.3 428.5h8.4m-4.2 -4.2v8.4M295.3 430.5h8.4m-4.2 -4.2v8.4M284.3 430.5h8.4m-4.2 -4.2v8.4M240.3 433.5h8.4m-4.2 -4.2v8.4M266.3 433.5h8.4m-4.2 -4.2v8.4M302.3 432.5h8.4m-4.2 -4.2v8.4M307.3 431.5h8.4m-4.2 -4.2v8.4M331.3 430.5h8.4m-4.2 -4.2v8.4M285.3 429.5h8.4m-4.2 -4.2v8.4M305.3 428.5h8.4m-4.2 -4.2v8.4M316.3 436.5h8.4m-4.2 -4.2v8.4M312.3 429.5h8.4m-4.2 -4.2v8.4M251.3 431.5h8.4m-4.2 -4.2v8.4M325.3 429.5h8.4m-4.2 -4.2v8.4M312.3 432.5h8.4m-4.2 -4.2v8.4M303.3 429.5h8.4m-4.2 -4.2v8.4M252.3 429.5h8.4m-4.2 -4.2v8.4M330.3 431.5h8.4m-4.2 -4.2v8.4M304.3 431.5h8.4m-4.2 -4.2v8.4M257.3 429.5h8.4m-4.2 -4.2v8.4M295.3 428.5h8.4m-4.2 -4.2v8.4M253.3 427.5h8.4m-4.2 -4.2v8.4M244.3 431.5h8.4m-4.2 -4.2v8.4M308.3 433.5h8.4m-4.2 -4.2v8.4M310.3 433.5h8.4m-4.2 -4.2v8.4M288.3 433.5h8.4m-4.2 -4.2v8.4M253.3 431.5h8.4m-4.2 -4.2v8.4M270.3 429.5h8.4m-4.2 -4.2v8.4M249.3 432.5h8.4m-4.2 -4.2v8.4M260.3 430.5h8.4m-4.2 -4.2v8.4M245.3 426.5h8.4m-4.2 -4.2v8.4M303.3 429.5h8.4m-4.2 -4.2v8.4M314.3 427.5h8.4m-4.2 -4.2v8.4M289.3 435.5h8.4m-4.2 -4.2v8.4M303.3 430.5h8.4m-4.2 -4.2v8.4M253.3 434.5h8.4m-4.2 -4.2v8.4M327.3 431.5h8.4m-4.2 -4.2v8.4M296.3 430.5h8.4m-4.2 -4.2v8.4M251.3 431.5h8.4m-4.2 -4.2v8.4M290.3 436.5h8.4m-4.2 -4.2v8.4M283.3 432.5h8.4m-4.2 -4.2v8.4M323.3 432.5h8.4m-4.2 -4.2v8.4M311.3 430.5h8.4m-4.2 -4.2v8.4M248.3 430.5h8.4m-4.2 -4.2v8.4M301.3 432.5h8.4m-4.2 -4.2v8.4M244.3 427.5h8.4m-4.2 -4.2v8.4M287.3 432.5h8.4m-4.2 -4.2v8.4M320.3 430.5h8.4m-4.2 -4.2v8.4M257.3 434.5h8.4m-4.2 -4.2v8.4M301.3 427.5h8.4m-4.2 -4.2v8.4M278.3 432.5h8.4m-4.2 -4.2v8.4M250.3 428.5h8.4m-4.2 -4.2v8.4M324.3 430.5h8.4m-4.2 -4.2v8.4M308.3 431.5h8.4m-4.2 -4.2v8.4M264.3 428.5h8.4m-4.2 -4.2v8.4M258.3 427.5h8.4m-4.2 -4.2v8.4M273.3 431.5h8.4m-4.2 -4.2v8.4M308.3 430.5h8.4m-4.2 -4.2v8.4M327.3 425.5h8.4m-4.2 -4.2v8.4M288.3 427.5h8.4m-4.2 -4.2v8.4M239.3 432.5h8.4m-4.2 -4.2v8.4M240.3 429.5h8.4m-4.2 -4.2v8.4M262.3 433.5h8.4m-4.2 -4.2v8.4M314.3 434.5h8.4m-4.2 -4.2v8.4M255.3 428.5h8.4m-4.2 -4.2v8.4M294.3 428.5h8.4m-4.2 -4.2v8.4M241.3 434.5h8.4m-4.2 -4.2v8.4M270.3 432.5h8.4m-4.2 -4.2v8.4M303.3 435.5h8.4m-4.2 -4.2v8.4M305.3 432.5h8.4m-4.2 -4.2v8.4M240.3 433.5h8.4m-4.2 -4.2v8.4M256.3 429.5h8.4m-4.2 -4.2v8.4M261.3 433.5h8.4m-4.2 -4.2v8.4M263.3 429.5h8.4m-4.2 -4.2v8.4M273.3 426.5h8.4m-4.2 -4.2v8.4M315.3 429.5h8.4m-4.2 -4.2v8.4M249.3 430.5h8.4m-4.2 -4.2v8.4M261.3 426.5h8.4m-4.2 -4.2v8.4M286.3 429.5h8.4m-4.2 -4.2v8.4M314.3 428.5h8.4m-4.2 -4.2v8.4M313.3 431.5h8.4m-4.2 -4.2v8.4M249.3 433.5h8.4m-4.2 -4.2v8.4M290.3 426.5h8.4m-4.2 -4.2v8.4M301.3 431.5h8.4m-4.2 -4.2v8.4M281.3 428.5h8.4m-4.2 -4.2v8.4M321.3 429.5h8.4m-4.2 -4.2v8.4M249.3 432.5h8.4m-4.2 -4.2v8.4M293.3 433.5h8.4m-4.2 -4.2v8.4M308.3 431.5h8.4m-4.2 -4.2v8.4M334.3 430.5h8.4m-4.2 -4.2v8.4M239.3 435.5h8.4m-4.2 -4.2v8.4M309.3 432.5h8.4m-4.2 -4.2v8.4M272.3 427.5h8.4m-4.2 -4.2v8.4M311.3 431.5h8.4m-4.2 -4.2v8.4M290.3 434.5h8.4m-4.2 -4.2v8.4M314.3 431.5h8.4m-4.2 -4.2v8.4M254.3 432.5h8.4m-4.2 -4.2v8.4M327.3 432.5h8.4m-4.2 -4.2v8.4M276.3 427.5h8.4m-4.2 -4.2v8.4M316.3 435.5h8.4m-4.2 -4.2v8.4M267.3 431.5h8.4m-4.2 -4.2v8.4M252.3 427.5h8.4m-4.2 -4.2v8.4M272.3 434.5h8.4m-4.2 -4.2v8.4M304.3 430.5h8.4m-4.2 -4.2v8.4M328.3 432.5h8.4m-4.2 -4.2v8.4M287.3 424.5h8.4m-4.2 -4.2v8.4M271.3 432.5h8.4m-4.2 -4.2v8.4M329.3 433.5h8.4m-4.2 -4.2v8.4M310.3 433.5h8.4m-4.2 -4.2v8.4M282.3 426.5h8.4m-4.2 -4.2v8.4M302.3 429.5h8.4m-4.2 -4.2v8.4M263.3 431.5h8.4m-4.2 -4.2v8.4M287.3 431.5h8.4m-4.2 -4.2v8.4M277.3 428.5h8.4m-4.2 -4.2v8.4M262.3 435.5h8.4m-4.2 -4.2v8.4M247.3 429.5h8.4m-4.2 -4.2v8.4M261.3 433.5h8.4m-4.2 -4.2v8.4M316.3 431.5h8.4m-4.2 -4.2v8.4M312.3 432.5h8.4m-4.2 -4.2v8.4M281.3 430.5h8.4m-4.2 -4.2v8.4M324.3 436.5h8.4m-4.2 -4.2v8.4M254.3 428.5h8.4m-4.2 -4.2v8.4M310.3 428.5h8.4m-4.2 -4.2v8.4M312.3 433.5h8.4m-4.2 -4.2v8.4M245.3 440.5h8.4m-4.2 -4.2v8.4M322.3 434.5h8.4m-4.2 -4.2v8.4M314.3 430.5h8.4m-4.2 -4.2v8.4M284.3 429.5h8.4m-4.2 -4.2v8.4M286.3 430.5h8.4m-4.2 -4.2v8.4M295.3 432.5h8.4m-4.2 -4.2v8.4M285.3 428.5h8.4m-4.2 -4.2v8.4M244.3 430.5h8.4m-4.2 -4.2v8.4M280.3 432.5h8.4m-4.2 -4.2v8.4M322.3 431.5h8.4m-4.2 -4.2v8.4M290.3 433.5h8.4m-4.2 -4.2v8.4M262.3 427.5h8.4m-4.2 -4.2v8.4M327.3 429.5h8.4m-4.2 -4.2v8.4M280.3 429.5h8.4m-4.2 -4.2v8.4M256.3 433.5h8.4m-4.2 -4.2v8.4M296.3 427.5h8.4m-4.2 -4.2v8.4M255.3 431.5h8.4m-4.2 -4.2v8.4M299.3 433.5h8.4m-4.2 -4.2v8.4M304.3 432.5h8.4m-4.2 -4.2v8.4M257.3 430.5h8.4m-4.2 -4.2v8.4M269.3 430.5h8.4m-4.2 -4.2v8.4M296.3 432.5h8.4m-4.2 -4.2v8.4M260.3 431.5h8.4m-4.2 -4.2v8.4M318.3 430.5h8.4m-4.2 -4.2v8.4M309.3 427.5h8.4m-4.2 -4.2v8.4M256.3 426.5h8.4m-4.2 -4.2v8.4M296.3 430.5h8.4m-4.2 -4.2v8.4M294.3 430.5h8.4m-4.2 -4.2v8.4M275.3 432.5h8.4m-4.2 -4.2v8.4M302.3 434.5h8.4m-4.2 -4.2v8.4M280.3 432.5h8.4m-4.2 -4.2v8.4M282.3 432.5h8.4m-4.2 -4.2v8.4M277.3 432.5h8.4m-4.2 -4.2v8.4M294.3 435.5h8.4m-4.2 -4.2v8.4M239.3 432.5h8.4m-4.2 -4.2v8.4M297.3 432.5h8.4m-4.2 -4.2v8.4M250.3 431.5h8.4m-4.2 -4.2v8.4M261.3 433.5h8.4m-4.2 -4.2v8.4M317.3 428.5h8.4m-4.2 -4.2v8.4M261.3 430.5h8.4m-4.2 -4.2v8.4M299.3 428.5h8.4m-4.2 -4.2v8.4M263.3 429.5h8.4m-4.2 -4.2v8.4M335.3 435.5h8.4m-4.2 -4.2v8.4M334.3 434.5h8.4m-4.2 -4.2v8.4M271.3 434.5h8.4m-4.2 -4.2v8.4M327.3 432.5h8.4m-4.2 -4.2v8.4M327.3 429.5h8.4m-4.2 -4.2v8.4M258.3 429.5h8.4m-4.2 -4.2v8.4M275.3 427.5h8.4m-4.2 -4.2v8.4M257.3 425.5h8.4m-4.2 -4.2v8.4M261.3 431.5h8.4m-4.2 -4.2v8.4M290.3 429.5h8.4m-4.2 -4.2v8.4M287.3 430.5h8.4m-4.2 -4.2v8.4M282.3 434.5h8.4m-4.2 -4.2v8.4M258.3 432.5h8.4m-4.2 -4.2v8.4M290.3 432.5h8.4m-4.2 -4.2v8.4M330.3 428.5h8.4m-4.2 -4.2v8.4M273.3 432.5h8.4m-4.2 -4.2v8.4M305.3 429.5h8.4m-4.2 -4.2v8.4M261.3 428.5h8.4m-4.2 -4.2v8.4M311.3 427.5h8.4m-4.2 -4.2v8.4M294.3 430.5h8.4m-4.2 -4.2v8.4M328.3 436.5h8.4m-4.2 -4.2v8.4M246.3 426.5h8.4m-4.2 -4.2v8.4M302.3 430.5h8.4m-4.2 -4.2v8.4M279.3 429.5h8.4m-4.2 -4.2v8.4M274.3 433.5h8.4m-4.2 -4.2v8.4M271.3 430.5h8.4m-4.2 -4.2v8.4M326.3 431.5h8.4m-4.2 -4.2v8.4M263.3 430.5h8.4m-4.2 -4.2v8.4M300.3 428.5h8.4m-4.2 -4.2v8.4M241.3 430.5h8.4m-4.2 -4.2v8.4M332.3 429.5h8.4m-4.2 -4.2v8.4M316.3 431.5h8.4m-4.2 -4.2v8.4M305.3 433.5h8.4m-4.2 -4.2v8.4M289.3 429.5h8.4m-4.2 -4.2v8.4M273.3 431.5h8.4m-4.2 -4.2v8.4M281.3 428.5h8.4m-4.2 -4.2v8.4M302.3 430.5h8.4m-4.2 -4.2v8.4M288.3 430.5h8.4m-4.2 -4.2v8.4M325.3 433.5h8.4m-4.2 -4.2v8.4M270.3 434.5h8.4m-4.2 -4.2v8.4M322.3 431.5h8.4m-4.2 -4.2v8.4M268.3 429.5h8.4m-4.2 -4.2v8.4M253.3 431.5h8.4m-4.2 -4.2v8.4M251.3 433.5h8.4m-4.2 -4.2v8.4M264.3 435.5h8.4m-4.2 -4.2v8.4M327.3 427.5h8.4m-4.2 -4.2v8.4M316.3 428.5h8.4m-4.2 -4.2v8.4M310.3 434.5h8.4m-4.2 -4.2v8.4M268.3 432.5h8.4m-4.2 -4.2v8.4M260.3 436.5h8.4m-4.2 -4.2v8.4M274.3 431.5h8.4m-4.2 -4.2v8.4M303.3 429.5h8.4m-4.2 -4.2v8.4M254.3 431.5h8.4m-4.2 -4.2v8.4M290.3 434.5h8.4m-4.2 -4.2v8.4M274.3 429.5h8.4m-4.2 -4.2v8.4M312.3 433.5h8.4m-4.2 -4.2v8.4M301.3 434.5h8.4m-4.2 -4.2v8.4M253.3 432.5h8.4m-4.2 -4.2v8.4M268.3 429.5h8.4m-4.2 -4.2v8.4M317.3 434.5h8.4m-4.2 -4.2v8.4M325.3 430.5h8.4m-4.2 -4.2v8.4M288.3 431.5h8.4m-4.2 -4.2v8.4M319.3 431.5h8.4m-4.2 -4.2v8.4M259.3 435.5h8.4m-4.2 -4.2v8.4M278.3 429.5h8.4m-4.2 -4.2v8.4M301.3 432.5h8.4m-4.2 -4.2v8.4M241.3 432.5h8.4m-4.2 -4.2v8.4M290.3 432.5h8.4m-4.2 -4.2v8.4M321.3 429.5h8.4m-4.2 -4.2v8.4M259.3 428.5h8.4m-4.2 -4.2v8.4M240.3 431.5h8.4m-4.2 -4.2v8.4M301.3 435.5h8.4m-4.2 -4.2v8.4M303.3 430.5h8.4m-4.2 -4.2v8.4M262.3 434.5h8.4m-4.2 -4.2v8.4M270.3 429.5h8.4m-4.2 -4.2v8.4M272.3 432.5h8.4m-4.2 -4.2v8.4M247.3 432.5h8.4m-4.2 -4.2v8.4M311.3 429.5h8.4m-4.2 -4.2v8.4M259.3 429.5h8.4m-4.2 -4.2v8.4M313.3 429.5h8.4m-4.2 -4.2v8.4M302.3 429.5h8.4m-4.2 -4.2v8.4M249.3 428.5h8.4m-4.2 -4.2v8.4M311.3 434.5h8.4m-4.2 -4.2v8.4M252.3 431.5h8.4m-4.2 -4.2v8.4M302.3 432.5h8.4m-4.2 -4.2v8.4M246.3 427.5h8.4m-4.2 -4.2v8.4M295.3 431.5h8.4m-4.2 -4.2v8.4M282.3 429.5h8.4m-4.2 -4.2v8.4M289.3 427.5h8.4m-4.2 -4.2v8.4M311.3 433.5h8.4m-4.2 -4.2v8.4M310.3 431.5h8.4m-4.2 -4.2v8.4M243.3 426.5h8.4m-4.2 -4.2v8.4M254.3 429.5h8.4m-4.2 -4.2v8.4M334.3 429.5h8.4m-4.2 -4.2v8.4M281.3 427.5h8.4m-4.2 -4.2v8.4M318.3 426.5h8.4m-4.2 -4.2v8.4M292.3 427.5h8.4m-4.2 -4.2v8.4M314.3 430.5h8.4m-4.2 -4.2v8.4M245.3 433.5h8.4m-4.2 -4.2v8.4M287.3 436.5h8.4m-4.2 -4.2v8.4M311.3 433.5h8.4m-4.2 -4.2v8.4M279.3 430.5h8.4m-4.2 -4.2v8.4M308.3 429.5h8.4m-4.2 -4.2v8.4M319.3 429.5h8.4m-4.2 -4.2v8.4M317.3 431.5h8.4m-4.2 -4.2v8.4M258.3 427.5h8.4m-4.2 -4.2v8.4M327.3 424.5h8.4m-4.2 -4.2v8.4M295.3 433.5h8.4m-4.2 -4.2v8.4M256.3 432.5h8.4m-4.2 -4.2v8.4M315.3 429.5h8.4m-4.2 -4.2v8.4M263.3 435.5h8.4m-4.2 -4.2v8.4M271.3 430.5h8.4m-4.2 -4.2v8.4M279.3 430.5h8.4m-4.2 -4.2v8.4M288.3 434.5h8.4m-4.2 -4.2v8.4M255.3 426.5h8.4m-4.2 -4.2v8.4M321.3 435.5h8.4m-4.2 -4.2v8.4M318.3 432.5h8.4m-4.2 -4.2v8.4M268.3 425.5h8.4m-4.2 -4.2v8.4M333.3 430.5h8.4m-4.2 -4.2v8.4M244.3 428.5h8.4m-4.2 -4.2v8.4M250.3 434.5h8.4m-4.2 -4.2v8.4M313.3 431.5h8.4m-4.2 -4.2v8.4M262.3 433.5h8.4m-4.2 -4.2v8.4M259.3 433.5h8.4m-4.2 -4.2v8.4M241.3 432.5h8.4m-4.2 -4.2v8.4M270.3 428.5h8.4m-4.2 -4.2v8.4M246.3 430.5h8.4m-4.2 -4.2v8.4M300.3 431.5h8.4m-4.2 -4.2v8.4M239.3 431.5h8.4m-4.2 -4.2v8.4M281.3 431.5h8.4m-4.2 -4.2v8.4M324.3 432.5h8.4m-4.2 -4.2v8.4M293.3 427.5h8.4m-4.2 -4.2v8.4M270.3 430.5h8.4m-4.2 -4.2v8.4M249.3 426.5h8.4m-4.2 -4.2v8.4M331.3 434.5h8.4m-4.2 -4.2v8.4M240.3 430.5h8.4m-4.2 -4.2v8.4M287.3 435.5h8.4m-4.2 -4.2v8.4M274.3 431.5h8.4m-4.2 -4.2v8.4M313.3 431.5h8.4m-4.2 -4.2v8.4M296.3 433.5h8.4m-4.2 -4.2v8.4M330.3 435.5h8.4m-4.2 -4.2v8.4M331.3 431.5h8.4m-4.2 -4.2v8.4M309.3 425.5h8.4m-4.2 -4.2v8.4M285.3 430.5h8.4m-4.2 -4.2v8.4M290.3 433.5h8.4m-4.2 -4.2v8.4M328.3 430.5h8.4m-4.2 -4.2v8.4M310.3 429.5h8.4m-4.2 -4.2v8.4M311.3 427.5h8.4m-4.2 -4.2v8.4M330.3 431.5h8.4m-4.2 -4.2v8.4M275.3 430.5h8.4m-4.2 -4.2v8.4M319.3 429.5h8.4m-4.2 -4.2v8.4M312.3 430.5h8.4m-4.2 -4.2v8.4M276.3 428.5h8.4m-4.2 -4.2v8.4M312.3 430.5h8.4m-4.2 -4.2v8.4M249.3 433.5h8.4m-4.2 -4.2v8.4M240.3 426.5h8.4m-4.2 -4.2v8.4M323.3 431.5h8.4m-4.2 -4.2v8.4M333.3 431.5h8.4m-4.2 -4.2v8.4M280.3 433.5h8.4m-4.2 -4.2v8.4M276.3 434.5h8.4m-4.2 -4.2v8.4M260.3 429.5h8.4m-4.2 -4.2v8.4M329.3 429.5h8.4m-4.2 -4.2v8.4M264.3 429.5h8.4m-4.2 -4.2v8.4M301.3 430.5h8.4m-4.2 -4.2v8.4M318.3 433.5h8.4m-4.2 -4.2v8.4M282.3 429.5h8.4m-4.2 -4.2v8.4M331.3 434.5h8.4m-4.2 -4.2v8.4M274.3 435.5h8.4m-4.2 -4.2v8.4M314.3 430.5h8.4m-4.2 -4.2v8.4M259.3 430.5h8.4m-4.2 -4.2v8.4M285.3 432.5h8.4m-4.2 -4.2v8.4M306.3 435.5h8.4m-4.2 -4.2v8.4M263.3 429.5h8.4m-4.2 -4.2v8.4M319.3 433.5h8.4m-4.2 -4.2v8.4M330.3 433.5h8.4m-4.2 -4.2v8.4M267.3 431.5h8.4m-4.2 -4.2v8.4M286.3 435.5h8.4m-4.2 -4.2v8.4M240.3 430.5h8.4m-4.2 -4.2v8.4M278.3 435.5h8.4m-4.2 -4.2v8.4M296.3 430.5h8.4m-4.2 -4.2v8.4M254.3 435.5h8.4m-4.2 -4.2v8.4M333.3 431.5h8.4m-4.2 -4.2v8.4M256.3 431.5h8.4m-4.2 -4.2v8.4M288.3 431.5h8.4m-4.2 -4.2v8.4M239.3 428.5h8.4m-4.2 -4.2v8.4M267.3 433.5h8.4m-4.2 -4.2v8.4M316.3 434.5h8.4m-4.2 -4.2v8.4M278.3 432.5h8.4m-4.2 -4.2v8.4M322.3 431.5h8.4m-4.2 -4.2v8.4M318.3 431.5h8.4m-4.2 -4.2v8.4M281.3 426.5h8.4m-4.2 -4.2v8.4M254.3 432.5h8.4m-4.2 -4.2v8.4M317.3 434.5h8.4m-4.2 -4.2v8.4M328.3 433.5h8.4m-4.2 -4.2v8.4M262.3 431.5h8.4m-4.2 -4.2v8.4M246.3 431.5h8.4m-4.2 -4.2v8.4M320.3 431.5h8.4m-4.2 -4.2v8.4M298.3 435.5h8.4m-4.2 -4.2v8.4M264.3 426.5h8.4m-4.2 -4.2v8.4M255.3 428.5h8.4m-4.2 -4.2v8.4M287.3 426.5h8.4m-4.2 -4.2v8.4M328.3 432.5h8.4m-4.2 -4.2v8.4M255.3 430.5h8.4m-4.2 -4.2v8.4M309.3 433.5h8.4m-4.2 -4.2v8.4M263.3 431.5h8.4m-4.2 -4.2v8.4M296.3 431.5h8.4m-4.2 -4.2v8.4M340.3 436.5h8.4m-4.2 -4.2v8.4M331.3 425.5h8.4m-4.2 -4.2v8.4M344.3 433.5h8.4m-4.2 -4.2v8.4M369.3 429.5h8.4m-4.2 -4.2v8.4M357.3 433.5h8.4m-4.2 -4.2v8.4M367.3 427.5h8.4m-4.2 -4.2v8.4M335.3 434.5h8.4m-4.2 -4.2v8.4M366.3 432.5h8.4m-4.2 -4.2v8.4M377.3 426.5h8.4m-4.2 -4.2v8.4M332.3 435.5h8.4m-4.2 -4.2v8.4M337.3 423.5h8.4m-4.2 -4.2v8.4M371.3 428.5h8.4m-4.2 -4.2v8.4M348.3 440.5h8.4m-4.2 -4.2v8.4M346.3 437.5h8.4m-4.2 -4.2v8.4M370.3 430.5h8.4m-4.2 -4.2v8.4M372.3 433.5h8.4m-4.2 -4.2v8.4M377.3 427.5h8.4m-4.2 -4.2v8.4M342.3 437.5h8.4m-4.2 -4.2v8.4M358.3 427.5h8.4m-4.2 -4.2v8.4M335.3 433.5h8.4m-4.2 -4.2v8.4M354.3 433.5h8.4m-4.2 -4.2v8.4M370.3 430.5h8.4m-4.2 -4.2v8.4M346.3 429.5h8.4m-4.2 -4.2v8.4M355.3 430.5h8.4m-4.2 -4.2v8.4M362.3 432.5h8.4m-4.2 -4.2v8.4M334.3 433.5h8.4m-4.2 -4.2v8.4M348.3 431.5h8.4m-4.2 -4.2v8.4M374.3 429.5h8.4m-4.2 -4.2v8.4M363.3 431.5h8.4m-4.2 -4.2v8.4M330.3 442.5h8.4m-4.2 -4.2v8.4M295.3 437.5h8.4m-4.2 -4.2v8.4M329.3 441.5h8.4m-4.2 -4.2v8.4M302.3 442.5h8.4m-4.2 -4.2v8.4M311.3 439.5h8.4m-4.2 -4.2v8.4M333.3 441.5h8.4m-4.2 -4.2v8.4M311.3 439.5h8.4m-4.2 -4.2v8.4M324.3 439.5h8.4m-4.2 -4.2v8.4M296.3 437.5h8.4m-4.2 -4.2v8.4M281.3 440.5h8.4m-4.2 -4.2v8.4M335.3 441.5h8.4m-4.2 -4.2v8.4M333.3 446.5h8.4m-4.2 -4.2v8.4M323.3 449.5h8.4m-4.2 -4.2v8.4M310.3 438.5h8.4m-4.2 -4.2v8.4M297.3 438.5h8.4m-4.2 -4.2v8.4M280.3 440.5h8.4m-4.2 -4.2v8.4M328.3 448.5h8.4m-4.2 -4.2v8.4M331.3 446.5h8.4m-4.2 -4.2v8.4M297.3 446.5h8.4m-4.2 -4.2v8.4M317.3 437.5h8.4m-4.2 -4.2v8.4M311.3 450.5h8.4m-4.2 -4.2v8.4M310.3 438.5h8.4m-4.2 -4.2v8.4M310.3 442.5h8.4m-4.2 -4.2v8.4M311.3 445.5h8.4m-4.2 -4.2v8.4M283.3 440.5h8.4m-4.2 -4.2v8.4M296.3 446.5h8.4m-4.2 -4.2v8.4M297.3 439.5h8.4m-4.2 -4.2v8.4M306.3 442.5h8.4m-4.2 -4.2v8.4M305.3 439.5h8.4m-4.2 -4.2v8.4M340.3 449.5h8.4m-4.2 -4.2v8.4M333.3 445.5h8.4m-4.2 -4.2v8.4M319.3 439.5h8.4m-4.2 -4.2v8.4M304.3 441.5h8.4m-4.2 -4.2v8.4M313.3 442.5h8.4m-4.2 -4.2v8.4M309.3 439.5h8.4m-4.2 -4.2v8.4M304.3 437.5h8.4m-4.2 -4.2v8.4M328.3 439.5h8.4m-4.2 -4.2v8.4M323.3 437.5h8.4m-4.2 -4.2v8.4M320.3 441.5h8.4m-4.2 -4.2v8.4M304.3 439.5h8.4m-4.2 -4.2v8.4M306.3 441.5h8.4m-4.2 -4.2v8.4M304.3 439.5h8.4m-4.2 -4.2v8.4M318.3 440.5h8.4m-4.2 -4.2v8.4M321.3 440.5h8.4m-4.2 -4.2v8.4M325.3 442.5h8.4m-4.2 -4.2v8.4M313.3 439.5h8.4m-4.2 -4.2v8.4M301.3 440.5h8.4m-4.2 -4.2v8.4M324.3 439.5h8.4m-4.2 -4.2v8.4M315.3 440.5h8.4m-4.2 -4.2v8.4M338.3 443.5h8.4m-4.2 -4.2v8.4M305.3 448.5h8.4m-4.2 -4.2v8.4M292.3 441.5h8.4m-4.2 -4.2v8.4M326.3 439.5h8.4m-4.2 -4.2v8.4M270.3 437.5h8.4m-4.2 -4.2v8.4M292.3 437.5h8.4m-4.2 -4.2v8.4M315.3 439.5h8.4m-4.2 -4.2v8.4M318.3 449.5h8.4m-4.2 -4.2v8.4M298.3 444.5h8.4m-4.2 -4.2v8.4M279.3 437.5h8.4m-4.2 -4.2v8.4M313.3 439.5h8.4m-4.2 -4.2v8.4M323.3 447.5h8.4m-4.2 -4.2v8.4M343.3 439.5h8.4m-4.2 -4.2v8.4M301.3 446.5h8.4m-4.2 -4.2v8.4M301.3 446.5h8.4m-4.2 -4.2v8.4M319.3 443.5h8.4m-4.2 -4.2v8.4M323.3 442.5h8.4m-4.2 -4.2v8.4M300.3 437.5h8.4m-4.2 -4.2v8.4M288.3 438.5h8.4m-4.2 -4.2v8.4M298.3 437.5h8.4m-4.2 -4.2v8.4M298.3 442.5h8.4m-4.2 -4.2v8.4M311.3 442.5h8.4m-4.2 -4.2v8.4M294.3 444.5h8.4m-4.2 -4.2v8.4M284.3 442.5h8.4m-4.2 -4.2v8.4M338.3 445.5h8.4m-4.2 -4.2v8.4M315.3 444.5h8.4m-4.2 -4.2v8.4M275.3 437.5h8.4m-4.2 -4.2v8.4M320.3 447.5h8.4m-4.2 -4.2v8.4M293.3 444.5h8.4m-4.2 -4.2v8.4M306.3 443.5h8.4m-4.2 -4.2v8.4M312.3 441.5h8.4m-4.2 -4.2v8.4M321.3 448.5h8.4m-4.2 -4.2v8.4M337.3 439.5h8.4m-4.2 -4.2v8.4M298.3 437.5h8.4m-4.2 -4.2v8.4M280.3 438.5h8.4m-4.2 -4.2v8.4M295.3 441.5h8.4m-4.2 -4.2v8.4M302.3 442.5h8.4m-4.2 -4.2v8.4M296.3 439.5h8.4m-4.2 -4.2v8.4M307.3 446.5h8.4m-4.2 -4.2v8.4M307.3 441.5h8.4m-4.2 -4.2v8.4M336.3 448.5h8.4m-4.2 -4.2v8.4M336.3 434.5h8.4m-4.2 -4.2v8.4M369.3 434.5h8.4m-4.2 -4.2v8.4M371.3 433.5h8.4m-4.2 -4.2v8.4M356.3 428.5h8.4m-4.2 -4.2v8.4M350.3 432.5h8.4m-4.2 -4.2v8.4M367.3 433.5h8.4m-4.2 -4.2v8.4M350.3 429.5h8.4m-4.2 -4.2v8.4M337.3 425.5h8.4m-4.2 -4.2v8.4M362.3 432.5h8.4m-4.2 -4.2v8.4M352.3 430.5h8.4m-4.2 -4.2v8.4M375.3 426.5h8.4m-4.2 -4.2v8.4M356.3 430.5h8.4m-4.2 -4.2v8.4M340.3 428.5h8.4m-4.2 -4.2v8.4M367.3 429.5h8.4m-4.2 -4.2v8.4M374.3 433.5h8.4m-4.2 -4.2v8.4M340.3 432.5h8.4m-4.2 -4.2v8.4M348.3 431.5h8.4m-4.2 -4.2v8.4M355.3 426.5h8.4m-4.2 -4.2v8.4M364.3 428.5h8.4m-4.2 -4.2v8.4M360.3 426.5h8.4m-4.2 -4.2v8.4M370.3 432.5h8.4m-4.2 -4.2v8.4" stroke="#00bfbf" stroke-width="0.72" fill="none"/>
<path d="M227.3 249.3l8.4 8.4m0 -8.4l-8.4 8.4M211.3 288.3l8.4 8.4m0 -8.4l-8.4 8.4M220.3 288.3l8.4 8.4m0 -8.4l-8.4 8.4M230.3 296.3l8.4 8.4m0 -8.4l-8.4 8.4M230.3 308.3l8.4 8.4m0 -8.4l-8.4 8.4M230.3 309.3l8.4 8.4m0 -8.4l-8.4 8.4M234.3 316.3l8.4 8.4m0 -8.4l-8.4 8.4M236.3 333.3l8.4 8.4m0 -8.4l-8.4 8.4M235.3 341.3l8.4 8.4m0 -8.4l-8.4 8.4M216.3 346.3l8.4 8.4m0 -8.4l-8.4 8.4M216.3 346.3l8.4 8.4m0 -8.4l-8.4 8.4M231.3 362.3l8.4 8.4m0 -8.4l-8.4 8.4M233.3 362.3l8.4 8.4m0 -8.4l-8.4 8.4M237.3 371.3l8.4 8.4m0 -8.4l-8.4 8.4M232.3 401.3l8.4 8.4m0 -8.4l-8.4 8.4M230.3 414.3l8.4 8.4m0 -8.4l-8.4 8.4M204.3 414.3l8.4 8.4m0 -8.4l-8.4 8.4M207.3 414.3l8.4 8.4m0 -8.4l-8.4 8.4M209.3 457.3l8.4 8.4m0 -8.4l-8.4 8.4M181.3 418.3l8.4 8.4m0 -8.4l-8.4 8.4M192.3 418.3l8.4 8.4m0 -8.4l-8.4 8.4M232.3 418.3l8.4 8.4m0 -8.4l-8.4 8.4M235.3 419.3l8.4 8.4m0 -8.4l-8.4 8.4M237.3 433.3l8.4 8.4m0 -8.4l-8.4 8.4M186.3 417.3l8.4 8.4m0 -8.4l-8.4 8.4M200.3 420.3l8.4 8.4m0 -8.4l-8.4 8.4M224.3 419.3l8.4 8.4m0 -8.4l-8.4 8.4M228.3 417.3l8.4 8.4m0 -8.4l-8.4 8.4" stroke="#00f" stroke-width="0.72" fill="none"/>
<g fill="#bf00bf" stroke="#000" stroke-width="0.9">
<circle cx="187.6" cy="429.4" r="4.17"/>
<circle cx="210.7" cy="431.3" r="4.17"/>
<circle cx="224.5" cy="430.6" r="4.17"/>
<circle cx="190.5" cy="431.9" r="4.17"/>
<circle cx="204.4" cy="431.4" r="4.17"/>
<circle cx="202.3" cy="433.5" r="4.17"/>
<circle cx="214.7" cy="430.3" r="4.17"/>
<circle cx="220.6" cy="430.2" r="4.17"/>
<circle cx="227.9" cy="429.6" r="4.17"/>
<circle cx="192.6" cy="432.8" r="4.17"/>
<circle cx="200.4" cy="429.5" r="4.17"/>
<circle cx="227.8" cy="431.0" r="4.17"/>
<circle cx="233.8" cy="429.9" r="4.17"/>
<circle cx="204.7" cy="432.1" r="4.17"/>
<circle cx="190.6" cy="431.8" r="4.17"/>
<circle cx="194.8" cy="430.3" r="4.17"/>
<circle cx="229.5" cy="431.6" r="4.17"/>
<circle cx="194.5" cy="429.8" r="4.17"/>
<circle cx="198.9" cy="430.3" r="4.17"/>
<circle cx="197.6" cy="432.8" r="4.17"/>
<circle cx="209.5" cy="431.4" r="4.17"/>
<circle cx="221.6" cy="428.3" r="4.17"/>
<circle cx="194.8" cy="429.9" r="4.17"/>
<circle cx="212.6" cy="429.2" r="4.17"/>
<circle cx="236.8" cy="431.0" r="4.17"/>
<circle cx="213.8" cy="428.9" r="4.17"/>
<circle cx="213.4" cy="429.4" r="4.17"/>
<circle cx="226.4" cy="432.0" r="4.17"/>
<circle cx="217.1" cy="427.7" r="4.17"/>
<circle cx="211.0" cy="432.3" r="4.17"/>
<circle cx="232.2" cy="429.8" r="4.17"/>
<circle cx="195.0" cy="431.2" r="4.17"/>
<circle cx="198.4" cy="431.1" r="4.17"/>
<circle cx="240.0" cy="428.3" r="4.17"/>
<circle cx="201.5" cy="431.5" r="4.17"/>
<circle cx="191.6" cy="429.0" r="4.17"/>
<circle cx="196.2" cy="430.6" r="4.17"/>
<circle cx="237.7" cy="427.0" r="4.17"/>
<circle cx="197.3" cy="432.2" r="4.17"/>
<circle cx="215.7" cy="430.5" r="4.17"/>
<circle cx="226.5" cy="430.0" r="4.17"/>
<circle cx="188.9" cy="431.6" r="4.17"/>
<circle cx="202.5" cy="431.2" r="4.17"/>
<circle cx="226.5" cy="432.6" r="4.17"/>
<circle cx="202.0" cy="430.4" r="4.17"/>
<circle cx="206.3" cy="430.4" r="4.17"/>
<circle cx="217.2" cy="431.5" r="4.17"/>
<circle cx="230.1" cy="431.5" r="4.17"/>
<circle cx="204.2" cy="430.6" r="4.17"/>
<circle cx="196.1" cy="432.0" r="4.17"/>
<circle cx="188.9" cy="428.7" r="4.17"/>
<circle cx="202.1" cy="432.0" r="4.17"/>
<circle cx="222.9" cy="432.4" r="4.17"/>
<circle cx="236.0" cy="428.3" r="4.17"/>
<circle cx="214.2" cy="431.6" r="4.17"/>
<circle cx="195.3" cy="430.7" r="4.17"/>
<circle cx="220.4" cy="431.7" r="4.17"/>
<circle cx="192.6" cy="428.5" r="4.17"/>
<circle cx="194.4" cy="429.3" r="4.17"/>
<circle cx="194.9" cy="427.9" r="4.17"/>
<circle cx="236.7" cy="430.6" r="4.17"/>
<circle cx="220.4" cy="430.7" r="4.17"/>
<circle cx="187.9" cy="431.1" r="4.17"/>
<circle cx="236.9" cy="433.5" r="4.17"/>
<circle cx="208.2" cy="428.6" r="4.17"/>
<circle cx="196.3" cy="429.0" r="4.17"/>
<circle cx="223.4" cy="430.3" r="4.17"/>
<circle cx="214.7" cy="433.5" r="4.17"/>
<circle cx="220.8" cy="428.2" r="4.17"/>
<circle cx="210.9" cy="431.4" r="4.17"/>
<circle cx="199.2" cy="430.3" r="4.17"/>
<circle cx="187.8" cy="431.3" r="4.17"/>
<circle cx="222.6" cy="427.0" r="4.17"/>
<circle cx="213.1" cy="431.8" r="4.17"/>
<circle cx="210.2" cy="429.8" r="4.17"/>
<circle cx="220.4" cy="430.2" r="4.17"/>
<circle cx="214.0" cy="431.8" r="4.17"/>
<circle cx="236.2" cy="429.9" r="4.17"/>
<circle cx="226.3" cy="428.0" r="4.17"/>
<circle cx="236.8" cy="429.4" r="4.17"/>
<circle cx="199.9" cy="432.3" r="4.17"/>
<circle cx="220.6" cy="430.5" r="4.17"/>
<circle cx="235.7" cy="428.4" r="4.17"/>
<circle cx="228.3" cy="433.5" r="4.17"/>
<circle cx="208.2" cy="427.8" r="4.17"/>
<circle cx="226.9" cy="431.0" r="4.17"/>
<circle cx="218.5" cy="429.9" r="4.17"/>
<circle cx="203.3" cy="431.5" r="4.17"/>
<circle cx="226.7" cy="428.6" r="4.17"/>
<circle cx="192.8" cy="430.5" r="4.17"/>
<circle cx="192.7" cy="429.4" r="4.17"/>
<circle cx="197.9" cy="430.1" r="4.17"/>
<circle cx="195.5" cy="432.2" r="4.17"/>
<circle cx="233.7" cy="431.4" r="4.17"/>
<circle cx="199.7" cy="430.0" r="4.17"/>
<circle cx="239.1" cy="427.9" r="4.17"/>
<circle cx="189.9" cy="429.8" r="4.17"/>
<circle cx="191.4" cy="429.5" r="4.17"/>
<circle cx="209.8" cy="427.0" r="4.17"/>
<circle cx="220.6" cy="431.0" r="4.17"/>
<circle cx="221.1" cy="431.0" r="4.17"/>
<circle cx="193.5" cy="429.8" r="4.17"/>
<circle cx="215.6" cy="428.0" r="4.17"/>
<circle cx="197.2" cy="429.7" r="4.17"/>
<circle cx="200.4" cy="428.1" r="4.17"/>
<circle cx="200.7" cy="429.9" r="4.17"/>
<circle cx="201.8" cy="431.2" r="4.17"/>
<circle cx="233.6" cy="427.8" r="4.17"/>
<circle cx="230.2" cy="430.7" r="4.17"/>
<circle cx="195.7" cy="429.6" r="4.17"/>
<circle cx="223.9" cy="428.8" r="4.17"/>
<circle cx="199.7" cy="433.1" r="4.17"/>
<circle cx="188.4" cy="429.8" r="4.17"/>
<circle cx="191.0" cy="432.6" r="4.17"/>
<circle cx="227.4" cy="429.7" r="4.17"/>
<circle cx="223.5" cy="428.5" r="4.17"/>
<circle cx="215.6" cy="431.8" r="4.17"/>
<circle cx="194.4" cy="429.0" r="4.17"/>
<circle cx="230.0" cy="429.9" r="4.17"/>
<circle cx="214.6" cy="432.1" r="4.17"/>
<circle cx="218.1" cy="430.8" r="4.17"/>
<circle cx="231.0" cy="432.3" r="4.17"/>
<circle cx="203.5" cy="428.5" r="4.17"/>
<circle cx="204.1" cy="429.8" r="4.17"/>
<circle cx="193.0" cy="432.5" r="4.17"/>
<circle cx="205.2" cy="429.1" r="4.17"/>
<circle cx="230.7" cy="429.6" r="4.17"/>
<circle cx="220.6" cy="429.9" r="4.17"/>
<circle cx="201.5" cy="431.2" r="4.17"/>
<circle cx="202.1" cy="429.9" r="4.17"/>
<circle cx="222.1" cy="433.5" r="4.17"/>
<circle cx="232.5" cy="429.5" r="4.17"/>
<circle cx="209.2" cy="431.9" r="4.17"/>
<circle cx="187.5" cy="429.5" r="4.17"/>
<circle cx="237.8" cy="431.9" r="4.17"/>
<circle cx="234.4" cy="429.2" r="4.17"/>
<circle cx="221.0" cy="427.3" r="4.17"/>
<circle cx="189.7" cy="431.4" r="4.17"/>
<circle cx="211.4" cy="432.3" r="4.17"/>
<circle cx="203.1" cy="429.9" r="4.17"/>
<circle cx="192.0" cy="427.5" r="4.17"/>
<circle cx="209.1" cy="431.5" r="4.17"/>
<circle cx="214.5" cy="429.3" r="4.17"/>
<circle cx="214.5" cy="429.7" r="4.17"/>
<circle cx="202.4" cy="431.8" r="4.17"/>
<circle cx="200.6" cy="430.3" r="4.17"/>
<circle cx="230.7" cy="431.4" r="4.17"/>
<circle cx="193.3" cy="429.5" r="4.17"/>
<circle cx="215.6" cy="430.1" r="4.17"/>
<circle cx="217.0" cy="431.8" r="4.17"/>
<circle cx="196.9" cy="429.6" r="4.17"/>
<circle cx="188.7" cy="430.9" r="4.17"/>
<circle cx="214.2" cy="430.6" r="4.17"/>
<circle cx="216.2" cy="431.5" r="4.17"/>
<circle cx="195.8" cy="430.4" r="4.17"/>
<circle cx="187.7" cy="430.5" r="4.17"/>
<circle cx="215.2" cy="433.1" r="4.17"/>
<circle cx="188.5" cy="430.8" r="4.17"/>
<circle cx="209.6" cy="430.5" r="4.17"/>
<circle cx="228.4" cy="427.4" r="4.17"/>
<circle cx="232.3" cy="429.0" r="4.17"/>
<circle cx="218.5" cy="433.5" r="4.17"/>
<circle cx="219.6" cy="432.3" r="4.17"/>
<circle cx="194.9" cy="429.9" r="4.17"/>
<circle cx="214.3" cy="430.8" r="4.17"/>
<circle cx="200.2" cy="429.1" r="4.17"/>
<circle cx="231.3" cy="428.8" r="4.17"/>
<circle cx="208.0" cy="428.5" r="4.17"/>
<circle cx="220.7" cy="429.1" r="4.17"/>
<circle cx="227.8" cy="428.7" r="4.17"/>
<circle cx="210.7" cy="431.2" r="4.17"/>
<circle cx="237.1" cy="430.5" r="4.17"/>
<circle cx="215.6" cy="432.1" r="4.17"/>
<circle cx="202.0" cy="430.7" r="4.17"/>
<circle cx="233.1" cy="430.5" r="4.17"/>
<circle cx="223.0" cy="430.7" r="4.17"/>
<circle cx="188.2" cy="431.6" r="4.17"/>
<circle cx="201.2" cy="428.6" r="4.17"/>
<circle cx="227.7" cy="431.8" r="4.17"/>
<circle cx="222.6" cy="430.3" r="4.17"/>
<circle cx="212.9" cy="427.0" r="4.17"/>
<circle cx="238.0" cy="429.9" r="4.17"/>
<circle cx="205.6" cy="427.0" r="4.17"/>
<circle cx="224.6" cy="428.1" r="4.17"/>
<circle cx="206.1" cy="427.0" r="4.17"/>
<circle cx="201.8" cy="428.1" r="4.17"/>
<circle cx="198.7" cy="429.6" r="4.17"/>
<circle cx="192.3" cy="428.7" r="4.17"/>
<circle cx="194.2" cy="431.5" r="4.17"/>
<circle cx="196.9" cy="429.4" r="4.17"/>
<circle cx="203.4" cy="429.2" r="4.17"/>
<circle cx="238.4" cy="429.5" r="4.17"/>
<circle cx="195.8" cy="430.4" r="4.17"/>
<circle cx="211.0" cy="428.1" r="4.17"/>
<circle cx="197.8" cy="432.1" r="4.17"/>
<circle cx="210.0" cy="432.0" r="4.17"/>
<circle cx="189.1" cy="428.1" r="4.17"/>
<circle cx="202.0" cy="429.5" r="4.17"/>
<circle cx="200.9" cy="430.9" r="4.17"/>
<circle cx="215.8" cy="427.9" r="4.17"/>
<circle cx="188.1" cy="427.0" r="4.17"/>
<circle cx="213.6" cy="431.7" r="4.17"/>
<circle cx="192.2" cy="429.5" r="4.17"/>
<circle cx="233.7" cy="429.8" r="4.17"/>
<circle cx="210.1" cy="429.5" r="4.17"/>
<circle cx="228.1" cy="432.1" r="4.17"/>
<circle cx="231.7" cy="427.1" r="4.17"/>
<circle cx="204.3" cy="429.3" r="4.17"/>
<circle cx="230.3" cy="428.9" r="4.17"/>
<circle cx="216.5" cy="427.6" r="4.17"/>
<circle cx="230.8" cy="427.0" r="4.17"/>
<circle cx="230.0" cy="428.5" r="4.17"/>
<circle cx="195.9" cy="430.6" r="4.17"/>
<circle cx="222.3" cy="433.5" r="4.17"/>
<circle cx="209.2" cy="431.1" r="4.17"/>
<circle cx="189.0" cy="430.3" r="4.17"/>
<circle cx="199.9" cy="430.4" r="4.17"/>
<circle cx="198.7" cy="430.2" r="4.17"/>
<circle cx="216.8" cy="431.3" r="4.17"/>
<circle cx="206.4" cy="430.8" r="4.17"/>
<circle cx="196.9" cy="431.2" r="4.17"/>
<circle cx="229.3" cy="429.4" r="4.17"/>
<circle cx="196.2" cy="430.0" r="4.17"/>
<circle cx="227.0" cy="429.4" r="4.17"/>
<circle cx="225.3" cy="429.8" r="4.17"/>
<circle cx="196.7" cy="432.7" r="4.17"/>
<circle cx="224.5" cy="429.2" r="4.17"/>
<circle cx="224.2" cy="433.5" r="4.17"/>
<circle cx="223.3" cy="433.5" r="4.17"/>
<circle cx="238.6" cy="431.3" r="4.17"/>
<circle cx="236.9" cy="431.2" r="4.17"/>
<circle cx="211.2" cy="431.6" r="4.17"/>
<circle cx="204.1" cy="431.8" r="4.17"/>
<circle cx="193.5" cy="427.8" r="4.17"/>
<circle cx="204.9" cy="428.8" r="4.17"/>
<circle cx="222.0" cy="428.0" r="4.17"/>
<circle cx="231.8" cy="430.4" r="4.17"/>
<circle cx="195.3" cy="431.2" r="4.17"/>
<circle cx="215.1" cy="430.7" r="4.17"/>
<circle cx="195.8" cy="432.5" r="4.17"/>
<circle cx="233.9" cy="431.9" r="4.17"/>
<circle cx="236.0" cy="429.9" r="4.17"/>
<circle cx="192.0" cy="429.2" r="4.17"/>
<circle cx="191.8" cy="429.7" r="4.17"/>
<circle cx="231.9" cy="433.5" r="4.17"/>
<circle cx="210.7" cy="431.0" r="4.17"/>
<circle cx="206.7" cy="430.0" r="4.17"/>
<circle cx="239.7" cy="431.6" r="4.17"/>
<circle cx="235.6" cy="428.4" r="4.17"/>
<circle cx="200.3" cy="431.2" r="4.17"/>
<circle cx="201.4" cy="430.2" r="4.17"/>
<circle cx="236.6" cy="431.0" r="4.17"/>
<circle cx="236.9" cy="431.2" r="4.17"/>
<circle cx="210.9" cy="427.0" r="4.17"/>
<circle cx="209.7" cy="429.4" r="4.17"/>
<circle cx="229.1" cy="431.2" r="4.17"/>
<circle cx="194.4" cy="430.5" r="4.17"/>
<circle cx="204.0" cy="427.2" r="4.17"/>
<circle cx="191.7" cy="430.6" r="4.17"/>
<circle cx="195.8" cy="431.2" r="4.17"/>
<circle cx="194.8" cy="431.8" r="4.17"/>
<circle cx="204.9" cy="430.9" r="4.17"/>
<circle cx="227.5" cy="427.0" r="4.17"/>
<circle cx="236.9" cy="428.1" r="4.17"/>
<circle cx="197.9" cy="427.9" r="4.17"/>
<circle cx="196.9" cy="432.6" r="4.17"/>
<circle cx="216.5" cy="430.6" r="4.17"/>
<circle cx="223.0" cy="429.0" r="4.17"/>
<circle cx="228.6" cy="429.7" r="4.17"/>
<circle cx="216.2" cy="429.8" r="4.17"/>
<circle cx="235.0" cy="431.4" r="4.17"/>
<circle cx="196.3" cy="431.2" r="4.17"/>
<circle cx="212.2" cy="429.6" r="4.17"/>
<circle cx="194.6" cy="432.4" r="4.17"/>
<circle cx="239.6" cy="430.1" r="4.17"/>
<circle cx="239.9" cy="429.0" r="4.17"/>
<circle cx="220.7" cy="432.9" r="4.17"/>
<circle cx="230.5" cy="427.5" r="4.17"/>
<circle cx="217.8" cy="428.2" r="4.17"/>
<circle cx="238.3" cy="433.2" r="4.17"/>
<circle cx="228.5" cy="430.5" r="4.17"/>
<circle cx="215.2" cy="429.8" r="4.17"/>
<circle cx="212.3" cy="428.4" r="4.17"/>
<circle cx="224.7" cy="429.6" r="4.17"/>
<circle cx="195.4" cy="429.7" r="4.17"/>
<circle cx="209.8" cy="430.1" r="4.17"/>
<circle cx="192.0" cy="427.0" r="4.17"/>
<circle cx="208.9" cy="430.0" r="4.17"/>
<circle cx="236.0" cy="427.8" r="4.17"/>
<circle cx="214.3" cy="430.3" r="4.17"/>
<circle cx="226.3" cy="430.1" r="4.17"/>
<circle cx="192.3" cy="429.2" r="4.17"/>
<circle cx="189.9" cy="427.6" r="4.17"/>
<circle cx="198.8" cy="430.9" r="4.17"/>
<circle cx="229.9" cy="429.3" r="4.17"/>
<circle cx="199.1" cy="430.9" r="4.17"/>
<circle cx="195.2" cy="431.8" r="4.17"/>
<circle cx="226.5" cy="433.3" r="4.17"/>
<circle cx="217.8" cy="429.0" r="4.17"/>
<circle cx="196.1" cy="427.0" r="4.17"/>
<circle cx="214.5" cy="430.2" r="4.17"/>
<circle cx="199.9" cy="429.9" r="4.17"/>
<circle cx="207.7" cy="428.6" r="4.17"/>
<circle cx="215.4" cy="429.7" r="4.17"/>
<circle cx="239.1" cy="430.8" r="4.17"/>
<circle cx="207.8" cy="428.5" r="4.17"/>
<circle cx="195.5" cy="430.9" r="4.17"/>
<circle cx="223.1" cy="431.5" r="4.17"/>
<circle cx="232.5" cy="429.6" r="4.17"/>
<circle cx="231.1" cy="432.1" r="4.17"/>
<circle cx="201.1" cy="429.5" r="4.17"/>
<circle cx="235.3" cy="428.6" r="4.17"/>
<circle cx="194.6" cy="430.7" r="4.17"/>
<circle cx="194.7" cy="429.2" r="4.17"/>
<circle cx="227.9" cy="427.8" r="4.17"/>
<circle cx="225.4" cy="431.0" r="4.17"/>
<circle cx="215.2" cy="431.1" r="4.17"/>
<circle cx="224.6" cy="430.0" r="4.17"/>
<circle cx="202.6" cy="431.2" r="4.17"/>
<circle cx="237.5" cy="429.4" r="4.17"/>
<circle cx="208.9" cy="431.8" r="4.17"/>
<circle cx="228.5" cy="431.3" r="4.17"/>
<circle cx="234.6" cy="429.6" r="4.17"/>
<circle cx="214.6" cy="428.8" r="4.17"/>
<circle cx="187.7" cy="429.6" r="4.17"/>
<circle cx="228.5" cy="431.9" r="4.17"/>
<circle cx="238.1" cy="428.7" r="4.17"/>
<circle cx="199.4" cy="428.5" r="4.17"/>
<circle cx="239.8" cy="431.2" r="4.17"/>
<circle cx="190.4" cy="429.9" r="4.17"/>
<circle cx="226.2" cy="428.3" r="4.17"/>
<circle cx="236.1" cy="429.4" r="4.17"/>
<circle cx="238.3" cy="430.1" r="4.17"/>
<circle cx="189.4" cy="431.0" r="4.17"/>
<circle cx="236.7" cy="432.7" r="4.17"/>
<circle cx="226.8" cy="432.1" r="4.17"/>
<circle cx="232.8" cy="431.7" r="4.17"/>
<circle cx="218.6" cy="430.1" r="4.17"/>
<circle cx="199.5" cy="428.4" r="4.17"/>
<circle cx="222.3" cy="430.0" r="4.17"/>
<circle cx="226.1" cy="427.6" r="4.17"/>
<circle cx="202.2" cy="430.9" r="4.17"/>
<circle cx="215.4" cy="432.3" r="4.17"/>
<circle cx="230.5" cy="431.3" r="4.17"/>
<circle cx="228.7" cy="430.4" r="4.17"/>
<circle cx="207.0" cy="428.9" r="4.17"/>
<circle cx="224.8" cy="433.3" r="4.17"/>
<circle cx="234.3" cy="432.1" r="4.17"/>
<circle cx="232.9" cy="427.9" r="4.17"/>
<circle cx="191.6" cy="431.9" r="4.17"/>
<circle cx="204.2" cy="431.2" r="4.17"/>
<circle cx="201.4" cy="430.4" r="4.17"/>
<circle cx="212.1" cy="430.5" r="4.17"/>
<circle cx="197.8" cy="430.0" r="4.17"/>
<circle cx="196.3" cy="432.0" r="4.17"/>
<circle cx="227.7" cy="429.8" r="4.17"/>
<circle cx="210.8" cy="430.6" r="4.17"/>
<circle cx="200.7" cy="430.7" r="4.17"/>
<circle cx="195.3" cy="428.4" r="4.17"/>
<circle cx="205.7" cy="433.5" r="4.17"/>
<circle cx="230.3" cy="430.1" r="4.17"/>
<circle cx="220.3" cy="430.9" r="4.17"/>
<circle cx="231.0" cy="429.5" r="4.17"/>
<circle cx="229.7" cy="432.7" r="4.17"/>
<circle cx="240.2" cy="429.5" r="4.17"/>
<circle cx="189.4" cy="431.0" r="4.17"/>
<circle cx="225.0" cy="429.8" r="4.17"/>
<circle cx="198.1" cy="428.6" r="4.17"/>
<circle cx="199.9" cy="428.2" r="4.17"/>
<circle cx="191.7" cy="429.1" r="4.17"/>
<circle cx="227.7" cy="430.0" r="4.17"/>
<circle cx="189.9" cy="428.8" r="4.17"/>
<circle cx="217.5" cy="429.3" r="4.17"/>
<circle cx="197.3" cy="431.0" r="4.17"/>
<circle cx="228.2" cy="432.3" r="4.17"/>
<circle cx="204.7" cy="427.9" r="4.17"/>
<circle cx="191.0" cy="431.9" r="4.17"/>
<circle cx="237.2" cy="431.7" r="4.17"/>
<circle cx="200.0" cy="430.3" r="4.17"/>
<circle cx="209.6" cy="431.7" r="4.17"/>
<circle cx="197.1" cy="429.5" r="4.17"/>
<circle cx="198.5" cy="432.3" r="4.17"/>
<circle cx="211.7" cy="429.4" r="4.17"/>
<circle cx="190.0" cy="427.8" r="4.17"/>
<circle cx="188.0" cy="427.0" r="4.17"/>
<circle cx="218.8" cy="433.5" r="4.17"/>
<circle cx="207.0" cy="427.6" r="4.17"/>
<circle cx="238.1" cy="427.4" r="4.17"/>
<circle cx="238.5" cy="430.1" r="4.17"/>
<circle cx="187.9" cy="431.6" r="4.17"/>
<circle cx="219.9" cy="430.8" r="4.17"/>
<circle cx="201.4" cy="430.7" r="4.17"/>
<circle cx="191.5" cy="431.9" r="4.17"/>
<circle cx="226.4" cy="430.4" r="4.17"/>
<circle cx="208.9" cy="430.7" r="4.17"/>
<circle cx="202.1" cy="431.4" r="4.17"/>
<circle cx="212.5" cy="430.6" r="4.17"/>
<circle cx="196.1" cy="428.3" r="4.17"/>
<circle cx="222.5" cy="431.2" r="4.17"/>
<circle cx="205.3" cy="427.9" r="4.17"/>
<circle cx="237.8" cy="432.1" r="4.17"/>
<circle cx="220.0" cy="430.7" r="4.17"/>
<circle cx="230.3" cy="432.9" r="4.17"/>
<circle cx="238.0" cy="430.5" r="4.17"/>
<circle cx="192.2" cy="430.7" r="4.17"/>
<circle cx="229.4" cy="428.7" r="4.17"/>
<circle cx="209.8" cy="430.9" r="4.17"/>
<circle cx="213.2" cy="431.0" r="4.17"/>
<circle cx="218.2" cy="430.9" r="4.17"/>
<circle cx="220.3" cy="429.8" r="4.17"/>
<circle cx="232.5" cy="429.8" r="4.17"/>
<circle cx="197.6" cy="428.8" r="4.17"/>
<circle cx="219.9" cy="429.4" r="4.17"/>
<circle cx="224.7" cy="433.5" r="4.17"/>
<circle cx="206.6" cy="431.2" r="4.17"/>
<circle cx="194.1" cy="428.3" r="4.17"/>
<circle cx="235.5" cy="428.5" r="4.17"/>
<circle cx="190.3" cy="431.1" r="4.17"/>
<circle cx="220.6" cy="432.2" r="4.17"/>
<circle cx="218.8" cy="430.9" r="4.17"/>
</g>
</g>
<path d="M100.5 432.50H377.50" stroke="#00f" stroke-width="1.39" stroke-dasharray="8.33 8.33" fill="none"/>
<path d="M100.5 430.50H377.50" stroke="#f00" stroke-width="1.39" stroke-dasharray="8.33 8.33" fill="none"/>
<path d="M100.5 426.50H377.50" stroke="#00f" stroke-width="1.39" stroke-dasharray="4.17 6.94 1.39 6.94" fill="none"/>
<path d="M100.5 434.50H377.50" stroke="#00f" stroke-width="1.39" stroke-dasharray="4.17 6.94 1.39 6.94" fill="none"/>
<rect x="100.5" y="60.5" width="282.0" height="480.0" fill="none" stroke="#000" stroke-width="1.45"/>
<path d="M100.5 540.5v-5.80M138.5 540.5v-5.80M175.5 540.5v-5.80M213.5 540.5v-5.80M250.5 540.5v-5.80M288.5 540.5v-5.80M325.5 540.5v-5.80M363.5 540.5v-5.80M115.5 60.5v5.80M152.5 60.5v5.80M190.5 60.5v5.80M227.5 60.5v5.80M265.5 60.5v5.80M302.5 60.5v5.80M340.5 60.5v5.80M378.5 60.5v5.80M100.5 540.5h5.80M382.5 540.5h-5.80M100.5 420.5h5.80M382.5 420.5h-5.80M100.5 300.5h5.80M382.5 300.5h-5.80M100.5 180.5h5.80M382.5 180.5h-5.80M100.5 60.5h5.80M382.5 60.5h-5.80" stroke="#000" stroke-width="0.9" fill="none"/>
<rect x="27.5" y="70.5" width="345.0" height="180.0" fill="#fff" stroke="#000" stroke-width="1.39"/>
<path d="M37.33 86.5h8.34M41.5 82.33v8.34" stroke="#00bfbf" stroke-width="0.69" fill="none"/>
<path d="M37.33 111.33l8.34 8.34M37.33 119.67l8.34 -8.34" stroke="#00f" stroke-width="0.69" fill="none"/>
<circle cx="41.5" cy="144.5" r="4.17" fill="#bf00bf" stroke="#000" stroke-width="0.69"/>
<path d="M65.33 86.5h8.34M69.5 82.33v8.34" stroke="#00bfbf" stroke-width="0.69" fill="none"/>
<path d="M65.33 111.33l8.34 8.34M65.33 119.67l8.34 -8.34" stroke="#00f" stroke-width="0.69" fill="none"/>
<circle cx="69.5" cy="144.5" r="4.17" fill="#bf00bf" stroke="#000" stroke-width="0.69"/>
<path d="M41.5 173.5H69.5" stroke="#00f" stroke-width="1.39" stroke-dasharray="8.33 8.33" fill="none"/>
<path d="M41.5 202.5H69.5" stroke="#f00" stroke-width="1.39" stroke-dasharray="8.33 8.33" fill="none"/>
<path d="M41.5 231.5H69.5" stroke="#00f" stroke-width="1.39" stroke-dasharray="4.17 6.94 1.39 6.94" fill="none"/>
<text y="93.30" font-size="20.80"><tspan x="91.50" textLength="23.37" lengthAdjust="spacingAndGlyphs">all</tspan> <tspan x="121.23" textLength="72.72" lengthAdjust="spacingAndGlyphs">sample</tspan></text>
<text y="122.30" font-size="20.80"><tspan x="91.50" textLength="72.72" lengthAdjust="spacingAndGlyphs">sample</tspan> <tspan x="170.57" textLength="27.50" lengthAdjust="spacingAndGlyphs">for</tspan> <tspan x="204.43" textLength="58.07" lengthAdjust="spacingAndGlyphs">rough</tspan> <tspan x="268.86" textLength="63.58" lengthAdjust="spacingAndGlyphs">FWHM</tspan></text>
<text y="151.30" font-size="20.80"><tspan x="91.50" textLength="104.87" lengthAdjust="spacingAndGlyphs">best-effort</tspan> <tspan x="202.72" textLength="77.77" lengthAdjust="spacingAndGlyphs">PSF-like</tspan> <tspan x="286.85" textLength="72.72" lengthAdjust="spacingAndGlyphs">sample</tspan></text>
<text y="180.30" font-size="20.80"><tspan x="91.50" textLength="89.36" lengthAdjust="spacingAndGlyphs">resultant</tspan> <tspan x="187.22" textLength="70.31" lengthAdjust="spacingAndGlyphs">FWHM:</tspan> <tspan x="263.89" textLength="44.53" lengthAdjust="spacingAndGlyphs">4.52</tspan></text>
<text y="209.30" font-size="20.80"><tspan x="91.50" textLength="74.97" lengthAdjust="spacingAndGlyphs">median</tspan> <tspan x="172.83" textLength="63.58" lengthAdjust="spacingAndGlyphs">FHWM</tspan> <tspan x="242.76" textLength="19.28" lengthAdjust="spacingAndGlyphs">of</tspan> <tspan x="268.40" textLength="96.38" lengthAdjust="spacingAndGlyphs">sequence</tspan></text>
<text y="238.30" font-size="20.80"><tspan x="91.50" textLength="60.41" lengthAdjust="spacingAndGlyphs">sigma</tspan> <tspan x="158.27" textLength="58.16" lengthAdjust="spacingAndGlyphs">range</tspan></text>
<text y="29.20" font-size="20.80"><tspan x="118.52" textLength="63.58" lengthAdjust="spacingAndGlyphs">FWHM</tspan> <tspan x="188.46" textLength="22.26" lengthAdjust="spacingAndGlyphs">vs</tspan> <tspan x="217.07" textLength="118.61" lengthAdjust="spacingAndGlyphs">magnitudes</tspan></text>
<text x="104.38" y="50.30" font-size="18.17" textLength="19.94" lengthAdjust="spacingAndGlyphs">14</text>
<text x="141.96" y="50.30" font-size="18.17" textLength="19.94" lengthAdjust="spacingAndGlyphs">16</text>
<text x="179.53" y="50.30" font-size="18.17" textLength="19.94" lengthAdjust="spacingAndGlyphs">18</text>
<text x="217.11" y="50.30" font-size="18.17" textLength="19.94" lengthAdjust="spacingAndGlyphs">20</text>
<text x="254.68" y="50.30" font-size="18.17" textLength="19.94" lengthAdjust="spacingAndGlyphs">22</text>
<text x="292.26" y="50.30" font-size="18.17" textLength="19.94" lengthAdjust="spacingAndGlyphs">24</text>
<text x="329.84" y="50.30" font-size="18.17" textLength="19.94" lengthAdjust="spacingAndGlyphs">26</text>
<text x="367.41" y="50.30" font-size="18.17" textLength="19.94" lengthAdjust="spacingAndGlyphs">28</text>
<text x="84.17" y="559.80" font-size="18.17" textLength="33.06" lengthAdjust="spacingAndGlyphs">−20</text>
<text x="121.74" y="559.80" font-size="18.17" textLength="33.06" lengthAdjust="spacingAndGlyphs">−18</text>
<text x="159.32" y="559.80" font-size="18.17" textLength="33.06" lengthAdjust="spacingAndGlyphs">−16</text>
<text x="196.90" y="559.80" font-size="18.17" textLength="33.06" lengthAdjust="spacingAndGlyphs">−14</text>
<text x="234.47" y="559.80" font-size="18.17" textLength="33.06" lengthAdjust="spacingAndGlyphs">−12</text>
<text x="272.05" y="559.80" font-size="18.17" textLength="33.06" lengthAdjust="spacingAndGlyphs">−10</text>
<text x="314.61" y="559.80" font-size="18.17" textLength="23.10" lengthAdjust="spacingAndGlyphs">−8</text>
<text x="352.18" y="559.80" font-size="18.17" textLength="23.10" lengthAdjust="spacingAndGlyphs">−6</text>
<text x="84.73" y="545.00" font-size="18.17" textLength="9.97" lengthAdjust="spacingAndGlyphs">0</text>
<text x="84.73" y="425.00" font-size="18.17" textLength="9.97" lengthAdjust="spacingAndGlyphs">5</text>
<text x="74.76" y="305.00" font-size="18.17" textLength="19.94" lengthAdjust="spacingAndGlyphs">10</text>
<text x="74.76" y="65.00" font-size="18.17" textLength="19.94" lengthAdjust="spacingAndGlyphs">20</text>
<text y="583.90" font-size="19.17"><tspan x="95.44" textLength="90.16" lengthAdjust="spacingAndGlyphs">magnitude</tspan> <tspan x="190.89" textLength="102.81" lengthAdjust="spacingAndGlyphs">(bottom:isnt</tspan> <tspan x="299.00" textLength="5.62" lengthAdjust="spacingAndGlyphs">/</tspan> <tspan x="309.92" textLength="78.65" lengthAdjust="spacingAndGlyphs">top:calib)</tspan></text>
<text y="348.18" font-size="19.17" transform="rotate(-90 64.20 348.18)"><tspan x="64.20" textLength="52.98" lengthAdjust="spacingAndGlyphs">FWHM</tspan> <tspan x="122.48" textLength="38.08" lengthAdjust="spacingAndGlyphs">(pix)</tspan></text>
<rect x="438.5" y="322.5" width="1.00" height="57.0" fill="#00f" stroke="#000" stroke-width="1.39"/>
<rect x="438.5" y="265.5" width="211.00" height="57.0" fill="#00f" stroke="#000" stroke-width="1.39"/>
<rect x="438.5" y="208.5" width="67.00" height="57.0" fill="#00f" stroke="#000" stroke-width="1.39"/>
<rect x="438.5" y="151.5" width="5.00" height="57.0" fill="#00f" stroke="#000" stroke-width="1.39"/>
<rect x="438.5" y="94.5" width="1.00" height="57.0" fill="#00f" stroke="#000" stroke-width="1.39"/>
<path d="M438.5 296.5H691.8" stroke="#000" stroke-width="1.39" stroke-dasharray="8.33 8.33" fill="none"/>
<rect x="438.5" y="60.5" width="282.0" height="480.0" fill="none" stroke="#000" stroke-width="1.39"/>
<path d="M438.5 540.5v-5.80M438.5 60.5v5.80M495.5 540.5v-5.80M495.5 60.5v5.80M551.5 540.5v-5.80M551.5 60.5v5.80M607.5 540.5v-5.80M607.5 60.5v5.80M664.5 540.5v-5.80M664.5 60.5v5.80M720.5 540.5v-5.80M720.5 60.5v5.80M438.5 433.5h5.80M720.5 433.5h-5.80M438.5 300.5h5.80M720.5 300.5h-5.80M438.5 167.5h5.80M720.5 167.5h-5.80" stroke="#000" stroke-width="0.69" fill="none"/>
<text y="53.20" font-size="20.80"><tspan x="481.72" textLength="101.39" lengthAdjust="spacingAndGlyphs">histogram</tspan> <tspan x="589.47" textLength="19.28" lengthAdjust="spacingAndGlyphs">of</tspan> <tspan x="615.10" textLength="63.58" lengthAdjust="spacingAndGlyphs">FWHM</tspan></text>
<text x="432.60" y="559.80" font-size="18.17" textLength="9.97" lengthAdjust="spacingAndGlyphs">0</text>
<text x="483.98" y="559.80" font-size="18.17" textLength="19.94" lengthAdjust="spacingAndGlyphs">50</text>
<text x="535.36" y="559.80" font-size="18.17" textLength="29.90" lengthAdjust="spacingAndGlyphs">100</text>
<text x="591.72" y="559.80" font-size="18.17" textLength="29.90" lengthAdjust="spacingAndGlyphs">150</text>
<text x="648.08" y="559.80" font-size="18.17" textLength="29.90" lengthAdjust="spacingAndGlyphs">200</text>
<text x="704.45" y="559.80" font-size="18.17" textLength="29.90" lengthAdjust="spacingAndGlyphs">250</text>
<text x="408.08" y="438.33" font-size="18.17" textLength="24.92" lengthAdjust="spacingAndGlyphs">4.0</text>
<text x="408.08" y="305.00" font-size="18.17" textLength="24.92" lengthAdjust="spacingAndGlyphs">4.5</text>
<text x="408.08" y="171.67" font-size="18.17" textLength="24.92" lengthAdjust="spacingAndGlyphs">5.0</text>
<text y="583.90" font-size="19.17"><tspan x="501.23" textLength="65.05" lengthAdjust="spacingAndGlyphs">number</tspan> <tspan x="571.58" textLength="16.06" lengthAdjust="spacingAndGlyphs">of</tspan> <tspan x="592.94" textLength="64.03" lengthAdjust="spacingAndGlyphs">sources</tspan></text>
<text y="453.23" font-size="19.17" transform="rotate(-90 396.60 453.23)"><tspan x="396.60" textLength="52.98" lengthAdjust="spacingAndGlyphs">FWHM</tspan> <tspan x="454.88" textLength="16.06" lengthAdjust="spacingAndGlyphs">of</tspan> <tspan x="476.24" textLength="87.39" lengthAdjust="spacingAndGlyphs">best-effort</tspan> <tspan x="568.93" textLength="64.81" lengthAdjust="spacingAndGlyphs">PSF-like</tspan> <tspan x="639.03" textLength="64.03" lengthAdjust="spacingAndGlyphs">sources</tspan></text>
</svg>
</body></html>
